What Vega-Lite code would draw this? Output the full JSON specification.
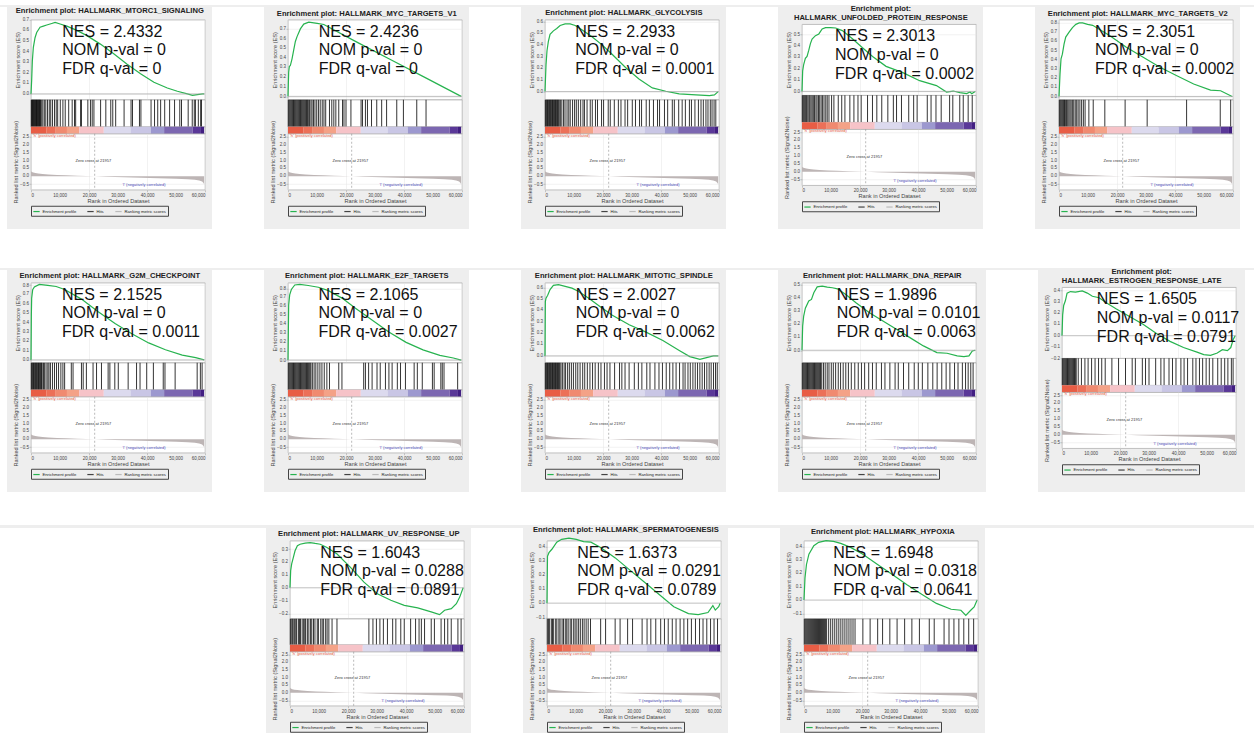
{
"$schema": "https://vega.github.io/schema/vega-lite/v6.json",
"padding": 0,
"background": "#eeeeee",
"config": {
  "font": "Liberation Sans",
  "view": {"stroke": "#a8a8a8", "strokeWidth": 0.7, "fill": "white"},
  "axis": {"labelFontSize": 4.5, "labelColor": "#444", "labelOverlap": false, "titleFontSize": 5.6, "titleFontWeight": "normal", "titleColor": "#444", "tickSize": 2, "tickColor": "#999", "tickWidth": 0.5, "domain": false, "grid": true, "gridColor": "#e4e4e4", "gridWidth": 0.5, "labelPadding": 0.5, "titlePadding": 1.5},
  "title": {"fontSize": 7.6, "fontWeight": "bold", "color": "#222", "offset": 2, "lineHeight": 9, "anchor": "middle"},
  "legend": {"orient": "bottom", "direction": "horizontal", "labelFontSize": 4.2, "labelColor": "#222", "symbolType": "stroke", "symbolStrokeWidth": 1.2, "symbolSize": 40, "strokeColor": "#444", "padding": 1.5, "columnPadding": 8, "labelOffset": 2, "offset": 1}
},
"datasets": {
  "rank": [{"r":0,"m":0.33},{"r":300,"m":0.28},{"r":800,"m":0.24},{"r":1500,"m":0.21},{"r":2500,"m":0.18},{"r":4000,"m":0.15},{"r":6000,"m":0.12},{"r":9000,"m":0.09},{"r":12000,"m":0.065},{"r":16000,"m":0.038},{"r":19000,"m":0.018},{"r":21957,"m":0},{"r":26000,"m":-0.03},{"r":32000,"m":-0.065},{"r":38000,"m":-0.095},{"r":44000,"m":-0.125},{"r":50000,"m":-0.155},{"r":54000,"m":-0.18},{"r":56500,"m":-0.21},{"r":58000,"m":-0.26},{"r":59000,"m":-0.33},{"r":59500,"m":-0.42},{"r":59700,"m":-0.52}],
  "bar": [{"a":0,"b":5400,"k":1},{"a":5400,"b":8300,"k":2},{"a":8300,"b":12400,"k":3},{"a":12400,"b":16600,"k":4},{"a":16600,"b":25100,"k":5},{"a":25100,"b":34300,"k":6},{"a":34300,"b":41300,"k":7},{"a":41300,"b":45900,"k":8},{"a":45900,"b":55700,"k":9},{"a":55700,"b":58600,"k":10},{"a":58600,"b":59700,"k":11}],
  "ytk": [{"v":0},{"v":0.5},{"v":1},{"v":1.5},{"v":2}],
  "xtk": [{"u":10000},{"u":30000},{"u":50000}],
  "e1": [{"r":0,"es":0},{"r":230,"es":0.13},{"r":460,"es":0.31},{"r":810,"es":0.44},{"r":1390,"es":0.53},{"r":1960,"es":0.58},{"r":3120,"es":0.63},{"r":4270,"es":0.64},{"r":5430,"es":0.65},{"r":7160,"es":0.665},{"r":8320,"es":0.675},{"r":10050,"es":0.66},{"r":12360,"es":0.64},{"r":15820,"es":0.6},{"r":19290,"es":0.55},{"r":23910,"es":0.47},{"r":28530,"es":0.38},{"r":33150,"es":0.28},{"r":37770,"es":0.19},{"r":42390,"es":0.11},{"r":47010,"es":0.056},{"r":50470,"es":0.025},{"r":53940,"es":0},{"r":55670,"es":-0.013},{"r":57400,"es":-0.006},{"r":59140,"es":0},{"r":59700,"es":0}],
  "e2": [{"r":0,"es":0},{"r":230,"es":0.25},{"r":460,"es":0.31},{"r":810,"es":0.32},{"r":1390,"es":0.39},{"r":1960,"es":0.48},{"r":2540,"es":0.57},{"r":3120,"es":0.62},{"r":4270,"es":0.7},{"r":5430,"es":0.75},{"r":7160,"es":0.77},{"r":8320,"es":0.765},{"r":10050,"es":0.757},{"r":12360,"es":0.746},{"r":23910,"es":0.56},{"r":35460,"es":0.38},{"r":47010,"es":0.2},{"r":59700,"es":0}],
  "e3": [{"r":0,"es":0},{"r":350,"es":0.23},{"r":690,"es":0.35},{"r":1160,"es":0.43},{"r":1740,"es":0.49},{"r":2890,"es":0.52},{"r":4050,"es":0.54},{"r":5210,"es":0.566},{"r":6940,"es":0.58},{"r":8680,"es":0.58},{"r":10410,"es":0.566},{"r":12730,"es":0.53},{"r":16200,"es":0.47},{"r":19670,"es":0.4},{"r":23140,"es":0.32},{"r":27770,"es":0.206},{"r":32400,"es":0.107},{"r":37020,"es":0.031},{"r":41650,"es":0.003},{"r":46280,"es":-0.02},{"r":52070,"es":-0.028},{"r":56690,"es":-0.034},{"r":58430,"es":-0.028},{"r":59700,"es":0}],
  "e4": [{"r":0,"es":0},{"r":230,"es":0.18},{"r":580,"es":0.236},{"r":1160,"es":0.29},{"r":1740,"es":0.307},{"r":2320,"es":0.36},{"r":2900,"es":0.42},{"r":3480,"es":0.46},{"r":4640,"es":0.49},{"r":5800,"es":0.505},{"r":6950,"es":0.548},{"r":8110,"es":0.56},{"r":9850,"es":0.56},{"r":11590,"es":0.557},{"r":13910,"es":0.534},{"r":17390,"es":0.463},{"r":20860,"es":0.383},{"r":24340,"es":0.307},{"r":28980,"es":0.22},{"r":34770,"es":0.165},{"r":40570,"es":0.094},{"r":46360,"es":0.051},{"r":49840,"es":-0.006},{"r":52160,"es":0.003},{"r":54470,"es":-0.011},{"r":56790,"es":-0.02},{"r":57950,"es":-0.006},{"r":58530,"es":-0.02},{"r":59700,"es":0}],
  "e5": [{"r":0,"es":0},{"r":350,"es":0.245},{"r":700,"es":0.41},{"r":1160,"es":0.46},{"r":1740,"es":0.57},{"r":2320,"es":0.646},{"r":3480,"es":0.7},{"r":4640,"es":0.75},{"r":5810,"es":0.785},{"r":6970,"es":0.8},{"r":8130,"es":0.8},{"r":9870,"es":0.785},{"r":11610,"es":0.774},{"r":17420,"es":0.664},{"r":23220,"es":0.536},{"r":29030,"es":0.427},{"r":34830,"es":0.318},{"r":40640,"es":0.226},{"r":46440,"es":0.135},{"r":52250,"es":0.069},{"r":55730,"es":0.062},{"r":59700,"es":0}],
  "e6": [{"r":0,"es":0},{"r":120,"es":0.48},{"r":230,"es":0.66},{"r":580,"es":0.75},{"r":1160,"es":0.78},{"r":2900,"es":0.807},{"r":5800,"es":0.796},{"r":8690,"es":0.785},{"r":11590,"es":0.753},{"r":17390,"es":0.65},{"r":23180,"es":0.516},{"r":28980,"es":0.389},{"r":34770,"es":0.28},{"r":40570,"es":0.182},{"r":46360,"es":0.109},{"r":52160,"es":0.051},{"r":56790,"es":0.025},{"r":59700,"es":0}],
  "e7": [{"r":0,"es":0},{"r":230,"es":0.617},{"r":580,"es":0.73},{"r":1160,"es":0.79},{"r":2330,"es":0.84},{"r":4070,"es":0.846},{"r":6980,"es":0.834},{"r":10470,"es":0.815},{"r":13960,"es":0.777},{"r":18620,"es":0.693},{"r":23270,"es":0.579},{"r":29090,"es":0.446},{"r":34910,"es":0.312},{"r":40730,"es":0.198},{"r":46550,"es":0.114},{"r":52360,"es":0.053},{"r":57020,"es":0.023},{"r":59700,"es":0}],
  "e8": [{"r":0,"es":0},{"r":120,"es":0.475},{"r":350,"es":0.505},{"r":930,"es":0.53},{"r":1740,"es":0.58},{"r":2900,"es":0.617},{"r":4640,"es":0.623},{"r":6970,"es":0.608},{"r":9290,"es":0.593},{"r":11610,"es":0.564},{"r":15090,"es":0.504},{"r":18580,"es":0.439},{"r":23220,"es":0.356},{"r":29030,"es":0.273},{"r":34830,"es":0.208},{"r":40640,"es":0.134},{"r":46440,"es":0.045},{"r":49920,"es":-0.006},{"r":53410,"es":-0.03},{"r":55730,"es":-0.015},{"r":58050,"es":0},{"r":59700,"es":0}],
  "e9": [{"r":0,"es":0},{"r":230,"es":0.184},{"r":580,"es":0.26},{"r":1160,"es":0.32},{"r":2330,"es":0.374},{"r":3260,"es":0.386},{"r":4070,"es":0.437},{"r":5230,"es":0.482},{"r":6980,"es":0.487},{"r":8720,"es":0.48},{"r":10470,"es":0.475},{"r":12210,"es":0.467},{"r":15120,"es":0.424},{"r":18610,"es":0.361},{"r":23260,"es":0.285},{"r":27910,"es":0.222},{"r":32560,"es":0.159},{"r":37220,"es":0.096},{"r":41870,"es":0.033},{"r":46520,"es":-0.018},{"r":50010,"es":-0.023},{"r":53500,"es":-0.043},{"r":55820,"es":-0.048},{"r":57570,"es":-0.043},{"r":58730,"es":-0.005},{"r":59700,"es":0}],
  "e10": [{"r":0,"es":0},{"r":230,"es":0.185},{"r":580,"es":0.268},{"r":1160,"es":0.31},{"r":1750,"es":0.378},{"r":2910,"es":0.392},{"r":4660,"es":0.386},{"r":6980,"es":0.397},{"r":8730,"es":0.378},{"r":10480,"es":0.35},{"r":12800,"es":0.337},{"r":15130,"es":0.295},{"r":18620,"es":0.24},{"r":23280,"es":0.171},{"r":27940,"es":0.102},{"r":32590,"es":0.019},{"r":37250,"es":-0.05},{"r":41900,"es":-0.105},{"r":46560,"es":-0.146},{"r":48890,"es":-0.168},{"r":51220,"es":-0.174},{"r":53540,"es":-0.154},{"r":55290,"es":-0.124},{"r":57040,"es":-0.132},{"r":58200,"es":-0.105},{"r":59010,"es":-0.036},{"r":59700,"es":0}],
  "e11": [{"r":0,"es":0},{"r":230,"es":0.133},{"r":580,"es":0.185},{"r":1160,"es":0.236},{"r":1740,"es":0.287},{"r":2550,"es":0.326},{"r":3480,"es":0.338},{"r":5220,"es":0.346},{"r":6950,"es":0.351},{"r":8690,"es":0.344},{"r":10430,"es":0.338},{"r":12750,"es":0.313},{"r":16230,"es":0.262},{"r":20860,"es":0.159},{"r":25500,"es":0.044},{"r":30130,"es":-0.046},{"r":34770,"es":-0.097},{"r":39410,"es":-0.136},{"r":44040,"es":-0.156},{"r":48680,"es":-0.187},{"r":51580,"es":-0.208},{"r":53310,"es":-0.174},{"r":55630,"es":-0.162},{"r":57370,"es":-0.123},{"r":58530,"es":-0.072},{"r":59700,"es":0}],
  "e12": [{"r":0,"es":0},{"r":170,"es":0.33},{"r":670,"es":0.356},{"r":1680,"es":0.38},{"r":3360,"es":0.43},{"r":5050,"es":0.45},{"r":7570,"es":0.459},{"r":10090,"es":0.45},{"r":12620,"es":0.434},{"r":15140,"es":0.43},{"r":18500,"es":0.393},{"r":23550,"es":0.319},{"r":28590,"es":0.233},{"r":33640,"es":0.147},{"r":38690,"es":0.061},{"r":43730,"es":-0.025},{"r":48780,"es":-0.074},{"r":52140,"es":-0.081},{"r":55510,"es":-0.066},{"r":57190,"es":-0.017},{"r":58030,"es":-0.049},{"r":59210,"es":-0.025},{"r":59700,"es":0}],
  "e13": [{"r":0,"es":0},{"r":340,"es":0.166},{"r":850,"es":0.267},{"r":1690,"es":0.344},{"r":3380,"es":0.408},{"r":5070,"es":0.433},{"r":7610,"es":0.446},{"r":10150,"es":0.44},{"r":12680,"es":0.425},{"r":16060,"es":0.395},{"r":20290,"es":0.344},{"r":25370,"es":0.267},{"r":30440,"es":0.191},{"r":35510,"es":0.115},{"r":40580,"es":0.043},{"r":45660,"es":-0.025},{"r":50730,"es":-0.069},{"r":54110,"es":-0.076},{"r":55800,"es":-0.115},{"r":57490,"es":-0.076},{"r":58680,"es":-0.051},{"r":59700,"es":0}],
  "h1": [{"r":100},{"r":300},{"r":500},{"r":700},{"r":900},{"r":1100},{"r":1300},{"r":1500},{"r":1700},{"r":1900},{"r":2100},{"r":2300},{"r":2500},{"r":2700},{"r":2900},{"r":3100},{"r":3300},{"r":3700},{"r":4100},{"r":4600},{"r":5100},{"r":5700},{"r":6300},{"r":6800},{"r":7400},{"r":8100},{"r":8700},{"r":9200},{"r":10100},{"r":11000},{"r":11800},{"r":13000},{"r":14200},{"r":15000},{"r":15400},{"r":17100},{"r":17400},{"r":19600},{"r":20500},{"r":21100},{"r":21700},{"r":24000},{"r":25800},{"r":27500},{"r":28200},{"r":29200},{"r":32100},{"r":34500},{"r":35000},{"r":37400},{"r":37900},{"r":41400},{"r":42600},{"r":43700},{"r":44700},{"r":46100},{"r":47800},{"r":49500},{"r":51300},{"r":51900},{"r":54200},{"r":55600},{"r":56300},{"r":56700},{"r":57700},{"r":58500},{"r":58800}],
  "h2": [{"r":100},{"r":400},{"r":700},{"r":1000},{"r":1300},{"r":1600},{"r":1900},{"r":2200},{"r":2500},{"r":2800},{"r":3100},{"r":3400},{"r":3700},{"r":4000},{"r":4300},{"r":4600},{"r":4900},{"r":5200},{"r":5500},{"r":5800},{"r":6100},{"r":6400},{"r":6700},{"r":7000},{"r":7400},{"r":7900},{"r":8300},{"r":8800},{"r":9300},{"r":9900},{"r":10500},{"r":11100},{"r":11800},{"r":12400},{"r":13000},{"r":14300},{"r":15100},{"r":15800},{"r":16500},{"r":17500},{"r":18800},{"r":19300},{"r":20000},{"r":21700},{"r":25200},{"r":25700},{"r":26700},{"r":27400},{"r":28800},{"r":30600},{"r":32300},{"r":34000},{"r":37500},{"r":39800},{"r":44400},{"r":47600}],
  "h3": [{"r":100},{"r":350},{"r":600},{"r":850},{"r":1100},{"r":1350},{"r":1600},{"r":1850},{"r":2100},{"r":2350},{"r":2600},{"r":2850},{"r":3100},{"r":3350},{"r":3600},{"r":3850},{"r":4100},{"r":4350},{"r":4600},{"r":4900},{"r":5300},{"r":5800},{"r":6400},{"r":6900},{"r":7600},{"r":8200},{"r":8700},{"r":9500},{"r":10200},{"r":10800},{"r":11500},{"r":12300},{"r":13100},{"r":13600},{"r":14500},{"r":15600},{"r":16300},{"r":17400},{"r":18100},{"r":19500},{"r":20200},{"r":21800},{"r":22500},{"r":23900},{"r":25300},{"r":26200},{"r":27600},{"r":28500},{"r":30100},{"r":31200},{"r":32600},{"r":33300},{"r":34900},{"r":36000},{"r":37400},{"r":38800},{"r":39500},{"r":41200},{"r":42300},{"r":43900},{"r":44600},{"r":46100},{"r":47300},{"r":48400},{"r":49800},{"r":50500},{"r":51700},{"r":52900},{"r":53800},{"r":54600},{"r":55500},{"r":56200},{"r":57000},{"r":57600},{"r":58300},{"r":58900}],
  "h4": [{"r":100},{"r":400},{"r":700},{"r":1000},{"r":1300},{"r":1600},{"r":2000},{"r":2400},{"r":2700},{"r":3100},{"r":3500},{"r":3900},{"r":4300},{"r":4800},{"r":5200},{"r":5700},{"r":6100},{"r":6600},{"r":7100},{"r":7600},{"r":8200},{"r":8700},{"r":9300},{"r":10200},{"r":11000},{"r":12500},{"r":13700},{"r":14800},{"r":16500},{"r":17900},{"r":19300},{"r":20400},{"r":22600},{"r":24300},{"r":25800},{"r":27500},{"r":29600},{"r":31500},{"r":32600},{"r":34300},{"r":36800},{"r":38500},{"r":39700},{"r":43200},{"r":44500},{"r":46200},{"r":48000},{"r":50900},{"r":52000},{"r":54400},{"r":55600},{"r":57300},{"r":58700}],
  "h5": [{"r":100},{"r":400},{"r":700},{"r":1000},{"r":1300},{"r":1600},{"r":1900},{"r":2200},{"r":2600},{"r":3000},{"r":3400},{"r":3800},{"r":4200},{"r":4700},{"r":5100},{"r":5600},{"r":6100},{"r":6600},{"r":7200},{"r":7800},{"r":8400},{"r":9000},{"r":10300},{"r":11800},{"r":15800},{"r":22800},{"r":30400},{"r":44000},{"r":55600},{"r":59200}],
  "h6": [{"r":100},{"r":350},{"r":600},{"r":850},{"r":1100},{"r":1350},{"r":1600},{"r":1850},{"r":2100},{"r":2350},{"r":2600},{"r":2850},{"r":3100},{"r":3350},{"r":3600},{"r":3850},{"r":4300},{"r":4700},{"r":5200},{"r":5800},{"r":6200},{"r":6700},{"r":7400},{"r":8100},{"r":8800},{"r":9500},{"r":10300},{"r":11000},{"r":11600},{"r":13900},{"r":14500},{"r":17400},{"r":18000},{"r":19100},{"r":21400},{"r":22600},{"r":24300},{"r":26600},{"r":27200},{"r":28900},{"r":30100},{"r":33500},{"r":36400},{"r":37600},{"r":39900},{"r":42200},{"r":45600},{"r":46200},{"r":49700},{"r":57300},{"r":58400},{"r":59000}],
  "h7": [{"r":100},{"r":400},{"r":700},{"r":1000},{"r":1300},{"r":1600},{"r":1900},{"r":2200},{"r":2500},{"r":2800},{"r":3100},{"r":3400},{"r":3700},{"r":4000},{"r":4300},{"r":4600},{"r":4900},{"r":5200},{"r":5500},{"r":5800},{"r":6100},{"r":6400},{"r":6700},{"r":7000},{"r":7300},{"r":7600},{"r":7900},{"r":8400},{"r":9000},{"r":9600},{"r":10300},{"r":11000},{"r":11700},{"r":12500},{"r":13400},{"r":14300},{"r":17500},{"r":18600},{"r":26100},{"r":26700},{"r":27800},{"r":29000},{"r":30700},{"r":31800},{"r":33600},{"r":34800},{"r":35900},{"r":37700},{"r":38800},{"r":40500},{"r":43500},{"r":44600},{"r":46300},{"r":49800},{"r":50400},{"r":52700},{"r":53200},{"r":53800},{"r":58500}],
  "h8": [{"r":100},{"r":350},{"r":600},{"r":850},{"r":1100},{"r":1350},{"r":1600},{"r":1850},{"r":2100},{"r":2350},{"r":2600},{"r":2850},{"r":3100},{"r":3350},{"r":3600},{"r":3850},{"r":4100},{"r":4350},{"r":4600},{"r":4850},{"r":5100},{"r":5500},{"r":6000},{"r":6600},{"r":7100},{"r":7800},{"r":8400},{"r":9100},{"r":9800},{"r":10600},{"r":11300},{"r":12100},{"r":13000},{"r":13700},{"r":14600},{"r":15500},{"r":16400},{"r":17300},{"r":18400},{"r":19300},{"r":20500},{"r":21400},{"r":22400},{"r":24000},{"r":25700},{"r":26500},{"r":27600},{"r":29000},{"r":30800},{"r":32200},{"r":33400},{"r":35100},{"r":36200},{"r":37900},{"r":39300},{"r":40500},{"r":41800},{"r":43000},{"r":44100},{"r":45200},{"r":46400},{"r":47600},{"r":48300},{"r":49300},{"r":50100},{"r":51000},{"r":51800},{"r":52600},{"r":53400},{"r":54200},{"r":55000},{"r":55800},{"r":56600},{"r":57300},{"r":58100},{"r":58800},{"r":59400}],
  "h9": [{"r":100},{"r":400},{"r":700},{"r":1000},{"r":1300},{"r":1600},{"r":1900},{"r":2200},{"r":2500},{"r":2800},{"r":3100},{"r":3400},{"r":3700},{"r":4000},{"r":4300},{"r":4600},{"r":4900},{"r":5200},{"r":5500},{"r":5800},{"r":6100},{"r":6400},{"r":6800},{"r":7400},{"r":8000},{"r":8700},{"r":9300},{"r":10100},{"r":10800},{"r":11600},{"r":12500},{"r":13300},{"r":14200},{"r":15100},{"r":16000},{"r":17000},{"r":18200},{"r":19400},{"r":20500},{"r":21600},{"r":23000},{"r":24300},{"r":25600},{"r":27400},{"r":28600},{"r":30300},{"r":32100},{"r":33200},{"r":35000},{"r":36800},{"r":38700},{"r":40100},{"r":41500},{"r":43400},{"r":45100},{"r":46600},{"r":48200},{"r":49700},{"r":51000},{"r":52600},{"r":53800},{"r":55300},{"r":56400},{"r":57300},{"r":58200},{"r":59000}],
  "h10": [{"r":100},{"r":400},{"r":700},{"r":1000},{"r":1300},{"r":1600},{"r":1900},{"r":2200},{"r":2500},{"r":2800},{"r":3100},{"r":3400},{"r":3700},{"r":4000},{"r":4300},{"r":4600},{"r":4900},{"r":5600},{"r":6700},{"r":7900},{"r":9000},{"r":10200},{"r":11400},{"r":12600},{"r":13700},{"r":14900},{"r":17200},{"r":19500},{"r":21900},{"r":24200},{"r":25300},{"r":27700},{"r":28800},{"r":30000},{"r":32300},{"r":34100},{"r":35200},{"r":36900},{"r":38100},{"r":39300},{"r":41000},{"r":42100},{"r":43300},{"r":45100},{"r":46200},{"r":47400},{"r":48500},{"r":49700},{"r":50800},{"r":52000},{"r":53700},{"r":54900},{"r":56100},{"r":57200},{"r":58400},{"r":59000}],
  "h11": [{"r":100},{"r":400},{"r":800},{"r":1100},{"r":1600},{"r":2000},{"r":2300},{"r":2900},{"r":3300},{"r":3600},{"r":4200},{"r":4700},{"r":5100},{"r":5400},{"r":6000},{"r":6500},{"r":7100},{"r":7500},{"r":8100},{"r":8600},{"r":9400},{"r":9800},{"r":10600},{"r":11100},{"r":11600},{"r":12300},{"r":12800},{"r":13400},{"r":14500},{"r":16200},{"r":27200},{"r":28600},{"r":29800},{"r":31000},{"r":32200},{"r":33600},{"r":35400},{"r":36500},{"r":38200},{"r":39400},{"r":41600},{"r":43300},{"r":44500},{"r":45300},{"r":46400},{"r":48700},{"r":49800},{"r":52100},{"r":53300},{"r":54400},{"r":55600},{"r":57900},{"r":59000}],
  "h12": [{"r":100},{"r":500},{"r":900},{"r":1500},{"r":1900},{"r":2300},{"r":3000},{"r":3400},{"r":4100},{"r":4500},{"r":5200},{"r":5700},{"r":6300},{"r":6800},{"r":7300},{"r":8000},{"r":8500},{"r":9200},{"r":9700},{"r":10300},{"r":10900},{"r":11500},{"r":12200},{"r":12800},{"r":13500},{"r":14200},{"r":15000},{"r":18500},{"r":20200},{"r":23500},{"r":25200},{"r":27800},{"r":29500},{"r":32800},{"r":34500},{"r":35800},{"r":37500},{"r":39200},{"r":40500},{"r":41800},{"r":43200},{"r":44500},{"r":45900},{"r":47200},{"r":48500},{"r":49800},{"r":51200},{"r":52600},{"r":53800},{"r":55100},{"r":56400},{"r":57600},{"r":58800}],
  "h13": [{"r":100},{"r":450},{"r":800},{"r":1150},{"r":1500},{"r":1850},{"r":2200},{"r":2550},{"r":2900},{"r":3250},{"r":3600},{"r":3950},{"r":4300},{"r":4650},{"r":5000},{"r":5350},{"r":5700},{"r":6050},{"r":6400},{"r":6750},{"r":7100},{"r":7450},{"r":7800},{"r":8500},{"r":9200},{"r":9900},{"r":10600},{"r":11300},{"r":12000},{"r":12700},{"r":13400},{"r":14100},{"r":14800},{"r":15500},{"r":16200},{"r":16900},{"r":17600},{"r":20300},{"r":22800},{"r":25400},{"r":27100},{"r":29600},{"r":32100},{"r":34700},{"r":37200},{"r":39800},{"r":43200},{"r":44900},{"r":48300},{"r":50000},{"r":51700},{"r":53400},{"r":55100},{"r":56800},{"r":58500}]
},
"resolve": {"scale": {"color": "independent"}},
"spacing": 0,
"vconcat": [
{"width": 1270, "height": 5, "data": {"values": []}, "mark": "rect", "view": {"stroke": null, "fill": "white"}},
{"spacing": 5, "center": true, "resolve": {"scale": {"color": "independent"}}, "hconcat": [
{"width": 7, "height": 222, "data": {"values": []}, "mark": "rect", "view": {"stroke": null, "fill": "white"}},
{"title": {"text": "Enrichment plot: HALLMARK_MTORC1_SIGNALING"}, "spacing": 0, "bounds": "flush", "vconcat": [
 {"width": 174, "height": 80, "layer": [
  {"data": {"name": "e1"}, "mark": {"type": "line", "color": "#27b34f", "strokeWidth": 1.2}, "encoding": {"x": {"field": "r", "type": "quantitative", "scale": {"domain": [0, 60000]}, "axis": {"labels": false, "ticks": false, "title": null, "values": [0,10000,20000,30000,40000,50000,60000]}}, "y": {"field": "es", "type": "quantitative", "scale": {"domain": [-0.055, 0.7], "nice": false, "zero": false}, "axis": {"title": "Enrichment score (ES)", "format": ".1f", "labelOverlap": false, "values": [0,0.1,0.2,0.3,0.4,0.5,0.6,0.7]}}}},
  {"data": {"values": [{}]}, "mark": {"type": "rule", "color": "#a3a3a3", "strokeWidth": 0.7}, "encoding": {"y": {"datum": 0}}},
  {"data": {"values": [{"v":0.1},{"v":0.2},{"v":0.3},{"v":0.4},{"v":0.5},{"v":0.6}]}, "mark": {"type": "text", "align": "right", "baseline": "middle", "dx": -2, "fontSize": 4.5, "color": "#444"}, "encoding": {"x": {"datum": 0}, "y": {"field": "v", "type": "quantitative"}, "text": {"field": "v", "type": "quantitative", "format": ".1f"}}},
  {"data": {"values": [{"t": "NES = 2.4332\nNOM p-val = 0\nFDR q-val = 0"}]}, "mark": {"type": "text", "fontSize": 16, "lineHeight": 18.7, "lineBreak": "\n", "align": "left", "baseline": "top", "dy": 4, "color": "#111"}, "encoding": {"text": {"field": "t"}, "x": {"datum": 10800}, "y": {"datum": 0.7}}}
 ]},
 {"width": 174, "height": 27, "data": {"name": "h1"}, "mark": {"type": "rule", "color": "#000000", "strokeWidth": 0.8}, "encoding": {"x": {"field": "r", "type": "quantitative", "scale": {"domain": [0, 60000]}, "axis": null}}},
 {"width": 174, "height": 7, "data": {"name": "bar"}, "mark": "rect", "encoding": {"x": {"field": "a", "type": "quantitative", "scale": {"domain": [0, 60000]}, "axis": null}, "x2": {"field": "b"}, "fill": {"field": "k", "type": "ordinal", "scale": {"range": ["#e85d45","#ec7058","#f08a70","#f4a287","#f6c3c8","#dcdaee","#c9c6e5","#9c98cf","#7c67b1","#5a3898","#421f82"]}, "legend": null}}},
 {"width": 174, "height": 56, "layer": [
  {"data": {"name": "rank"}, "mark": {"type": "area", "color": "#bdb5b5"}, "encoding": {"x": {"field": "r", "type": "quantitative", "scale": {"domain": [0, 60000]}, "axis": {"title": "Rank in Ordered Dataset", "format": ",d", "labelOverlap": false, "values": [0,10000,20000,30000,40000,50000,60000]}}, "y": {"field": "m", "type": "quantitative", "stack": null, "scale": {"domain": [-0.85, 2.7], "nice": false, "zero": false}, "axis": {"title": "Ranked list metric (Signal2Noise)", "format": ".1f", "labelOverlap": false, "values": [-0.5,0,0.5,1,1.5,2,2.5]}}, "y2": {"datum": 0}}},
  {"data": {"values": [{}]}, "mark": {"type": "rule", "color": "#8c8c8c", "strokeWidth": 0.6, "strokeDash": [2, 2]}, "encoding": {"x": {"datum": 21957}}},
  {"data": {"name": "ytk"}, "mark": {"type": "text", "align": "right", "baseline": "middle", "dx": -2, "fontSize": 4.5, "color": "#444"}, "encoding": {"x": {"datum": 0}, "y": {"field": "v", "type": "quantitative"}, "text": {"field": "v", "type": "quantitative", "format": ".1f"}}},
  {"data": {"name": "xtk"}, "mark": {"type": "text", "align": "center", "baseline": "top", "dy": 3, "fontSize": 4.5, "color": "#444"}, "encoding": {"x": {"field": "u", "type": "quantitative"}, "y": {"datum": -0.85}, "text": {"field": "u", "type": "quantitative", "format": ",d"}}},
  {"data": {"values": [{"t": "Zero cross at 21957"}]}, "mark": {"type": "text", "fontSize": 4, "color": "#333"}, "encoding": {"text": {"field": "t"}, "x": {"datum": 21500}, "y": {"datum": 0.95}}},
  {"data": {"values": [{"t": "'h' (positively correlated)"}]}, "mark": {"type": "text", "fontSize": 4, "color": "#e2553a", "align": "left"}, "encoding": {"text": {"field": "t"}, "x": {"datum": 700}, "y": {"datum": 2.58}}},
  {"data": {"values": [{"t": "'l' (negatively correlated)"}]}, "mark": {"type": "text", "fontSize": 4, "color": "#4646b4"}, "encoding": {"text": {"field": "t"}, "x": {"datum": 39000}, "y": {"datum": -0.57}}},
  {"data": {"values": []}, "mark": "line", "encoding": {"x": {"field": "r", "type": "quantitative"}, "y": {"field": "m", "type": "quantitative"}, "color": {"field": "k", "type": "nominal", "scale": {"domain": ["Enrichment profile", "Hits", "Ranking metric scores"], "range": ["#27b34f", "#444444", "#bbbbbb"]}, "legend": {"title": null}}}}
 ]}
]},
{"width": 52, "height": 222, "data": {"values": []}, "mark": "rect", "view": {"stroke": null, "fill": "white"}},
{"title": {"text": "Enrichment plot: HALLMARK_MYC_TARGETS_V1"}, "spacing": 0, "bounds": "flush", "vconcat": [
 {"width": 174, "height": 80, "layer": [
  {"data": {"name": "e2"}, "mark": {"type": "line", "color": "#27b34f", "strokeWidth": 1.2}, "encoding": {"x": {"field": "r", "type": "quantitative", "scale": {"domain": [0, 60000]}, "axis": {"labels": false, "ticks": false, "title": null, "values": [0,10000,20000,30000,40000,50000,60000]}}, "y": {"field": "es", "type": "quantitative", "scale": {"domain": [-0.035, 0.795], "nice": false, "zero": false}, "axis": {"title": "Enrichment score (ES)", "format": ".1f", "labelOverlap": false, "values": [0,0.1,0.2,0.3,0.4,0.5,0.6,0.7]}}}},
  {"data": {"values": [{}]}, "mark": {"type": "rule", "color": "#a3a3a3", "strokeWidth": 0.7}, "encoding": {"y": {"datum": 0}}},
  {"data": {"values": [{"v":0.1},{"v":0.2},{"v":0.3},{"v":0.4},{"v":0.5},{"v":0.6}]}, "mark": {"type": "text", "align": "right", "baseline": "middle", "dx": -2, "fontSize": 4.5, "color": "#444"}, "encoding": {"x": {"datum": 0}, "y": {"field": "v", "type": "quantitative"}, "text": {"field": "v", "type": "quantitative", "format": ".1f"}}},
  {"data": {"values": [{"t": "NES = 2.4236\nNOM p-val = 0\nFDR q-val = 0"}]}, "mark": {"type": "text", "fontSize": 16, "lineHeight": 18.7, "lineBreak": "\n", "align": "left", "baseline": "top", "dy": 4, "color": "#111"}, "encoding": {"text": {"field": "t"}, "x": {"datum": 10600}, "y": {"datum": 0.795}}}
 ]},
 {"width": 174, "height": 27, "data": {"name": "h2"}, "mark": {"type": "rule", "color": "#000000", "strokeWidth": 0.8}, "encoding": {"x": {"field": "r", "type": "quantitative", "scale": {"domain": [0, 60000]}, "axis": null}}},
 {"width": 174, "height": 7, "data": {"name": "bar"}, "mark": "rect", "encoding": {"x": {"field": "a", "type": "quantitative", "scale": {"domain": [0, 60000]}, "axis": null}, "x2": {"field": "b"}, "fill": {"field": "k", "type": "ordinal", "scale": {"range": ["#e85d45","#ec7058","#f08a70","#f4a287","#f6c3c8","#dcdaee","#c9c6e5","#9c98cf","#7c67b1","#5a3898","#421f82"]}, "legend": null}}},
 {"width": 174, "height": 56, "layer": [
  {"data": {"name": "rank"}, "mark": {"type": "area", "color": "#bdb5b5"}, "encoding": {"x": {"field": "r", "type": "quantitative", "scale": {"domain": [0, 60000]}, "axis": {"title": "Rank in Ordered Dataset", "format": ",d", "labelOverlap": false, "values": [0,10000,20000,30000,40000,50000,60000]}}, "y": {"field": "m", "type": "quantitative", "stack": null, "scale": {"domain": [-0.85, 2.7], "nice": false, "zero": false}, "axis": {"title": "Ranked list metric (Signal2Noise)", "format": ".1f", "labelOverlap": false, "values": [-0.5,0,0.5,1,1.5,2,2.5]}}, "y2": {"datum": 0}}},
  {"data": {"values": [{}]}, "mark": {"type": "rule", "color": "#8c8c8c", "strokeWidth": 0.6, "strokeDash": [2, 2]}, "encoding": {"x": {"datum": 21957}}},
  {"data": {"name": "ytk"}, "mark": {"type": "text", "align": "right", "baseline": "middle", "dx": -2, "fontSize": 4.5, "color": "#444"}, "encoding": {"x": {"datum": 0}, "y": {"field": "v", "type": "quantitative"}, "text": {"field": "v", "type": "quantitative", "format": ".1f"}}},
  {"data": {"name": "xtk"}, "mark": {"type": "text", "align": "center", "baseline": "top", "dy": 3, "fontSize": 4.5, "color": "#444"}, "encoding": {"x": {"field": "u", "type": "quantitative"}, "y": {"datum": -0.85}, "text": {"field": "u", "type": "quantitative", "format": ",d"}}},
  {"data": {"values": [{"t": "Zero cross at 21957"}]}, "mark": {"type": "text", "fontSize": 4, "color": "#333"}, "encoding": {"text": {"field": "t"}, "x": {"datum": 21500}, "y": {"datum": 0.95}}},
  {"data": {"values": [{"t": "'h' (positively correlated)"}]}, "mark": {"type": "text", "fontSize": 4, "color": "#e2553a", "align": "left"}, "encoding": {"text": {"field": "t"}, "x": {"datum": 700}, "y": {"datum": 2.58}}},
  {"data": {"values": [{"t": "'l' (negatively correlated)"}]}, "mark": {"type": "text", "fontSize": 4, "color": "#4646b4"}, "encoding": {"text": {"field": "t"}, "x": {"datum": 39000}, "y": {"datum": -0.57}}},
  {"data": {"values": []}, "mark": "line", "encoding": {"x": {"field": "r", "type": "quantitative"}, "y": {"field": "m", "type": "quantitative"}, "color": {"field": "k", "type": "nominal", "scale": {"domain": ["Enrichment profile", "Hits", "Ranking metric scores"], "range": ["#27b34f", "#444444", "#bbbbbb"]}, "legend": {"title": null}}}}
 ]}
]},
{"width": 52, "height": 222, "data": {"values": []}, "mark": "rect", "view": {"stroke": null, "fill": "white"}},
{"title": {"text": "Enrichment plot: HALLMARK_GLYCOLYSIS"}, "spacing": 0, "bounds": "flush", "vconcat": [
 {"width": 174, "height": 80, "layer": [
  {"data": {"name": "e3"}, "mark": {"type": "line", "color": "#27b34f", "strokeWidth": 1.2}, "encoding": {"x": {"field": "r", "type": "quantitative", "scale": {"domain": [0, 60000]}, "axis": {"labels": false, "ticks": false, "title": null, "values": [0,10000,20000,30000,40000,50000,60000]}}, "y": {"field": "es", "type": "quantitative", "scale": {"domain": [-0.07, 0.615], "nice": false, "zero": false}, "axis": {"title": "Enrichment score (ES)", "format": ".1f", "labelOverlap": false, "values": [0,0.1,0.2,0.3,0.4,0.5,0.6]}}}},
  {"data": {"values": [{}]}, "mark": {"type": "rule", "color": "#a3a3a3", "strokeWidth": 0.7}, "encoding": {"y": {"datum": 0}}},
  {"data": {"values": [{"v":0.1},{"v":0.2},{"v":0.3},{"v":0.4},{"v":0.5}]}, "mark": {"type": "text", "align": "right", "baseline": "middle", "dx": -2, "fontSize": 4.5, "color": "#444"}, "encoding": {"x": {"datum": 0}, "y": {"field": "v", "type": "quantitative"}, "text": {"field": "v", "type": "quantitative", "format": ".1f"}}},
  {"data": {"values": [{"t": "NES = 2.2933\nNOM p-val = 0\nFDR q-val = 0.0001"}]}, "mark": {"type": "text", "fontSize": 16, "lineHeight": 18.7, "lineBreak": "\n", "align": "left", "baseline": "top", "dy": 4, "color": "#111"}, "encoding": {"text": {"field": "t"}, "x": {"datum": 10400}, "y": {"datum": 0.615}}}
 ]},
 {"width": 174, "height": 27, "data": {"name": "h3"}, "mark": {"type": "rule", "color": "#000000", "strokeWidth": 0.8}, "encoding": {"x": {"field": "r", "type": "quantitative", "scale": {"domain": [0, 60000]}, "axis": null}}},
 {"width": 174, "height": 7, "data": {"name": "bar"}, "mark": "rect", "encoding": {"x": {"field": "a", "type": "quantitative", "scale": {"domain": [0, 60000]}, "axis": null}, "x2": {"field": "b"}, "fill": {"field": "k", "type": "ordinal", "scale": {"range": ["#e85d45","#ec7058","#f08a70","#f4a287","#f6c3c8","#dcdaee","#c9c6e5","#9c98cf","#7c67b1","#5a3898","#421f82"]}, "legend": null}}},
 {"width": 174, "height": 56, "layer": [
  {"data": {"name": "rank"}, "mark": {"type": "area", "color": "#bdb5b5"}, "encoding": {"x": {"field": "r", "type": "quantitative", "scale": {"domain": [0, 60000]}, "axis": {"title": "Rank in Ordered Dataset", "format": ",d", "labelOverlap": false, "values": [0,10000,20000,30000,40000,50000,60000]}}, "y": {"field": "m", "type": "quantitative", "stack": null, "scale": {"domain": [-0.85, 2.7], "nice": false, "zero": false}, "axis": {"title": "Ranked list metric (Signal2Noise)", "format": ".1f", "labelOverlap": false, "values": [-0.5,0,0.5,1,1.5,2,2.5]}}, "y2": {"datum": 0}}},
  {"data": {"values": [{}]}, "mark": {"type": "rule", "color": "#8c8c8c", "strokeWidth": 0.6, "strokeDash": [2, 2]}, "encoding": {"x": {"datum": 21957}}},
  {"data": {"name": "ytk"}, "mark": {"type": "text", "align": "right", "baseline": "middle", "dx": -2, "fontSize": 4.5, "color": "#444"}, "encoding": {"x": {"datum": 0}, "y": {"field": "v", "type": "quantitative"}, "text": {"field": "v", "type": "quantitative", "format": ".1f"}}},
  {"data": {"name": "xtk"}, "mark": {"type": "text", "align": "center", "baseline": "top", "dy": 3, "fontSize": 4.5, "color": "#444"}, "encoding": {"x": {"field": "u", "type": "quantitative"}, "y": {"datum": -0.85}, "text": {"field": "u", "type": "quantitative", "format": ",d"}}},
  {"data": {"values": [{"t": "Zero cross at 21957"}]}, "mark": {"type": "text", "fontSize": 4, "color": "#333"}, "encoding": {"text": {"field": "t"}, "x": {"datum": 21500}, "y": {"datum": 0.95}}},
  {"data": {"values": [{"t": "'h' (positively correlated)"}]}, "mark": {"type": "text", "fontSize": 4, "color": "#e2553a", "align": "left"}, "encoding": {"text": {"field": "t"}, "x": {"datum": 700}, "y": {"datum": 2.58}}},
  {"data": {"values": [{"t": "'l' (negatively correlated)"}]}, "mark": {"type": "text", "fontSize": 4, "color": "#4646b4"}, "encoding": {"text": {"field": "t"}, "x": {"datum": 39000}, "y": {"datum": -0.57}}},
  {"data": {"values": []}, "mark": "line", "encoding": {"x": {"field": "r", "type": "quantitative"}, "y": {"field": "m", "type": "quantitative"}, "color": {"field": "k", "type": "nominal", "scale": {"domain": ["Enrichment profile", "Hits", "Ranking metric scores"], "range": ["#27b34f", "#444444", "#bbbbbb"]}, "legend": {"title": null}}}}
 ]}
]},
{"width": 52, "height": 222, "data": {"values": []}, "mark": "rect", "view": {"stroke": null, "fill": "white"}},
{"title": {"text": ["Enrichment plot:", "HALLMARK_UNFOLDED_PROTEIN_RESPONSE"]}, "spacing": 0, "bounds": "flush", "vconcat": [
 {"width": 174, "height": 71, "layer": [
  {"data": {"name": "e4"}, "mark": {"type": "line", "color": "#27b34f", "strokeWidth": 1.2}, "encoding": {"x": {"field": "r", "type": "quantitative", "scale": {"domain": [0, 60000]}, "axis": {"labels": false, "ticks": false, "title": null, "values": [0,10000,20000,30000,40000,50000,60000]}}, "y": {"field": "es", "type": "quantitative", "scale": {"domain": [-0.034, 0.59], "nice": false, "zero": false}, "axis": {"title": "Enrichment score (ES)", "format": ".1f", "labelOverlap": false, "values": [0,0.1,0.2,0.3,0.4,0.5]}}}},
  {"data": {"values": [{}]}, "mark": {"type": "rule", "color": "#a3a3a3", "strokeWidth": 0.7}, "encoding": {"y": {"datum": 0}}},
  {"data": {"values": [{"v":0.1},{"v":0.2},{"v":0.3},{"v":0.4}]}, "mark": {"type": "text", "align": "right", "baseline": "middle", "dx": -2, "fontSize": 4.5, "color": "#444"}, "encoding": {"x": {"datum": 0}, "y": {"field": "v", "type": "quantitative"}, "text": {"field": "v", "type": "quantitative", "format": ".1f"}}},
  {"data": {"values": [{"t": "NES = 2.3013\nNOM p-val = 0\nFDR q-val = 0.0002"}]}, "mark": {"type": "text", "fontSize": 16, "lineHeight": 18.7, "lineBreak": "\n", "align": "left", "baseline": "top", "dy": 4, "color": "#111"}, "encoding": {"text": {"field": "t"}, "x": {"datum": 11400}, "y": {"datum": 0.59}}}
 ]},
 {"width": 174, "height": 27, "data": {"name": "h4"}, "mark": {"type": "rule", "color": "#000000", "strokeWidth": 0.8}, "encoding": {"x": {"field": "r", "type": "quantitative", "scale": {"domain": [0, 60000]}, "axis": null}}},
 {"width": 174, "height": 7, "data": {"name": "bar"}, "mark": "rect", "encoding": {"x": {"field": "a", "type": "quantitative", "scale": {"domain": [0, 60000]}, "axis": null}, "x2": {"field": "b"}, "fill": {"field": "k", "type": "ordinal", "scale": {"range": ["#e85d45","#ec7058","#f08a70","#f4a287","#f6c3c8","#dcdaee","#c9c6e5","#9c98cf","#7c67b1","#5a3898","#421f82"]}, "legend": null}}},
 {"width": 174, "height": 56, "layer": [
  {"data": {"name": "rank"}, "mark": {"type": "area", "color": "#bdb5b5"}, "encoding": {"x": {"field": "r", "type": "quantitative", "scale": {"domain": [0, 60000]}, "axis": {"title": "Rank in Ordered Dataset", "format": ",d", "labelOverlap": false, "values": [0,10000,20000,30000,40000,50000,60000]}}, "y": {"field": "m", "type": "quantitative", "stack": null, "scale": {"domain": [-0.85, 2.7], "nice": false, "zero": false}, "axis": {"title": "Ranked list metric (Signal2Noise)", "format": ".1f", "labelOverlap": false, "values": [-0.5,0,0.5,1,1.5,2,2.5]}}, "y2": {"datum": 0}}},
  {"data": {"values": [{}]}, "mark": {"type": "rule", "color": "#8c8c8c", "strokeWidth": 0.6, "strokeDash": [2, 2]}, "encoding": {"x": {"datum": 21957}}},
  {"data": {"name": "ytk"}, "mark": {"type": "text", "align": "right", "baseline": "middle", "dx": -2, "fontSize": 4.5, "color": "#444"}, "encoding": {"x": {"datum": 0}, "y": {"field": "v", "type": "quantitative"}, "text": {"field": "v", "type": "quantitative", "format": ".1f"}}},
  {"data": {"name": "xtk"}, "mark": {"type": "text", "align": "center", "baseline": "top", "dy": 3, "fontSize": 4.5, "color": "#444"}, "encoding": {"x": {"field": "u", "type": "quantitative"}, "y": {"datum": -0.85}, "text": {"field": "u", "type": "quantitative", "format": ",d"}}},
  {"data": {"values": [{"t": "Zero cross at 21957"}]}, "mark": {"type": "text", "fontSize": 4, "color": "#333"}, "encoding": {"text": {"field": "t"}, "x": {"datum": 21500}, "y": {"datum": 0.95}}},
  {"data": {"values": [{"t": "'h' (positively correlated)"}]}, "mark": {"type": "text", "fontSize": 4, "color": "#e2553a", "align": "left"}, "encoding": {"text": {"field": "t"}, "x": {"datum": 700}, "y": {"datum": 2.58}}},
  {"data": {"values": [{"t": "'l' (negatively correlated)"}]}, "mark": {"type": "text", "fontSize": 4, "color": "#4646b4"}, "encoding": {"text": {"field": "t"}, "x": {"datum": 39000}, "y": {"datum": -0.57}}},
  {"data": {"values": []}, "mark": "line", "encoding": {"x": {"field": "r", "type": "quantitative"}, "y": {"field": "m", "type": "quantitative"}, "color": {"field": "k", "type": "nominal", "scale": {"domain": ["Enrichment profile", "Hits", "Ranking metric scores"], "range": ["#27b34f", "#444444", "#bbbbbb"]}, "legend": {"title": null}}}}
 ]}
]},
{"width": 52, "height": 222, "data": {"values": []}, "mark": "rect", "view": {"stroke": null, "fill": "white"}},
{"title": {"text": "Enrichment plot: HALLMARK_MYC_TARGETS_V2"}, "spacing": 0, "bounds": "flush", "vconcat": [
 {"width": 174, "height": 80, "layer": [
  {"data": {"name": "e5"}, "mark": {"type": "line", "color": "#27b34f", "strokeWidth": 1.2}, "encoding": {"x": {"field": "r", "type": "quantitative", "scale": {"domain": [0, 60000]}, "axis": {"labels": false, "ticks": false, "title": null, "values": [0,10000,20000,30000,40000,50000,60000]}}, "y": {"field": "es", "type": "quantitative", "scale": {"domain": [-0.036, 0.835], "nice": false, "zero": false}, "axis": {"title": "Enrichment score (ES)", "format": ".1f", "labelOverlap": false, "values": [0,0.1,0.2,0.3,0.4,0.5,0.6,0.7,0.8]}}}},
  {"data": {"values": [{}]}, "mark": {"type": "rule", "color": "#a3a3a3", "strokeWidth": 0.7}, "encoding": {"y": {"datum": 0}}},
  {"data": {"values": [{"v":0.1},{"v":0.2},{"v":0.3},{"v":0.4},{"v":0.5},{"v":0.6},{"v":0.7}]}, "mark": {"type": "text", "align": "right", "baseline": "middle", "dx": -2, "fontSize": 4.5, "color": "#444"}, "encoding": {"x": {"datum": 0}, "y": {"field": "v", "type": "quantitative"}, "text": {"field": "v", "type": "quantitative", "format": ".1f"}}},
  {"data": {"values": [{"t": "NES = 2.3051\nNOM p-val = 0\nFDR q-val = 0.0002"}]}, "mark": {"type": "text", "fontSize": 16, "lineHeight": 18.7, "lineBreak": "\n", "align": "left", "baseline": "top", "dy": 4, "color": "#111"}, "encoding": {"text": {"field": "t"}, "x": {"datum": 12400}, "y": {"datum": 0.835}}}
 ]},
 {"width": 174, "height": 27, "data": {"name": "h5"}, "mark": {"type": "rule", "color": "#000000", "strokeWidth": 0.8}, "encoding": {"x": {"field": "r", "type": "quantitative", "scale": {"domain": [0, 60000]}, "axis": null}}},
 {"width": 174, "height": 7, "data": {"name": "bar"}, "mark": "rect", "encoding": {"x": {"field": "a", "type": "quantitative", "scale": {"domain": [0, 60000]}, "axis": null}, "x2": {"field": "b"}, "fill": {"field": "k", "type": "ordinal", "scale": {"range": ["#e85d45","#ec7058","#f08a70","#f4a287","#f6c3c8","#dcdaee","#c9c6e5","#9c98cf","#7c67b1","#5a3898","#421f82"]}, "legend": null}}},
 {"width": 174, "height": 56, "layer": [
  {"data": {"name": "rank"}, "mark": {"type": "area", "color": "#bdb5b5"}, "encoding": {"x": {"field": "r", "type": "quantitative", "scale": {"domain": [0, 60000]}, "axis": {"title": "Rank in Ordered Dataset", "format": ",d", "labelOverlap": false, "values": [0,10000,20000,30000,40000,50000,60000]}}, "y": {"field": "m", "type": "quantitative", "stack": null, "scale": {"domain": [-0.85, 2.7], "nice": false, "zero": false}, "axis": {"title": "Ranked list metric (Signal2Noise)", "format": ".1f", "labelOverlap": false, "values": [-0.5,0,0.5,1,1.5,2,2.5]}}, "y2": {"datum": 0}}},
  {"data": {"values": [{}]}, "mark": {"type": "rule", "color": "#8c8c8c", "strokeWidth": 0.6, "strokeDash": [2, 2]}, "encoding": {"x": {"datum": 21957}}},
  {"data": {"name": "ytk"}, "mark": {"type": "text", "align": "right", "baseline": "middle", "dx": -2, "fontSize": 4.5, "color": "#444"}, "encoding": {"x": {"datum": 0}, "y": {"field": "v", "type": "quantitative"}, "text": {"field": "v", "type": "quantitative", "format": ".1f"}}},
  {"data": {"name": "xtk"}, "mark": {"type": "text", "align": "center", "baseline": "top", "dy": 3, "fontSize": 4.5, "color": "#444"}, "encoding": {"x": {"field": "u", "type": "quantitative"}, "y": {"datum": -0.85}, "text": {"field": "u", "type": "quantitative", "format": ",d"}}},
  {"data": {"values": [{"t": "Zero cross at 21957"}]}, "mark": {"type": "text", "fontSize": 4, "color": "#333"}, "encoding": {"text": {"field": "t"}, "x": {"datum": 21500}, "y": {"datum": 0.95}}},
  {"data": {"values": [{"t": "'h' (positively correlated)"}]}, "mark": {"type": "text", "fontSize": 4, "color": "#e2553a", "align": "left"}, "encoding": {"text": {"field": "t"}, "x": {"datum": 700}, "y": {"datum": 2.58}}},
  {"data": {"values": [{"t": "'l' (negatively correlated)"}]}, "mark": {"type": "text", "fontSize": 4, "color": "#4646b4"}, "encoding": {"text": {"field": "t"}, "x": {"datum": 39000}, "y": {"datum": -0.57}}},
  {"data": {"values": []}, "mark": "line", "encoding": {"x": {"field": "r", "type": "quantitative"}, "y": {"field": "m", "type": "quantitative"}, "color": {"field": "k", "type": "nominal", "scale": {"domain": ["Enrichment profile", "Hits", "Ranking metric scores"], "range": ["#27b34f", "#444444", "#bbbbbb"]}, "legend": {"title": null}}}}
 ]}
]},
{"width": 40, "height": 222, "data": {"values": []}, "mark": "rect", "view": {"stroke": null, "fill": "white"}}
]},
{"width": 1270, "height": 39, "data": {"values": []}, "mark": "rect", "view": {"stroke": null, "fill": "white"}},
{"spacing": 5, "center": true, "resolve": {"scale": {"color": "independent"}}, "hconcat": [
{"width": 7, "height": 222, "data": {"values": []}, "mark": "rect", "view": {"stroke": null, "fill": "white"}},
{"title": {"text": "Enrichment plot: HALLMARK_G2M_CHECKPOINT"}, "spacing": 0, "bounds": "flush", "vconcat": [
 {"width": 174, "height": 80, "layer": [
  {"data": {"name": "e6"}, "mark": {"type": "line", "color": "#27b34f", "strokeWidth": 1.2}, "encoding": {"x": {"field": "r", "type": "quantitative", "scale": {"domain": [0, 60000]}, "axis": {"labels": false, "ticks": false, "title": null, "values": [0,10000,20000,30000,40000,50000,60000]}}, "y": {"field": "es", "type": "quantitative", "scale": {"domain": [-0.03, 0.825], "nice": false, "zero": false}, "axis": {"title": "Enrichment score (ES)", "format": ".1f", "labelOverlap": false, "values": [0,0.1,0.2,0.3,0.4,0.5,0.6,0.7,0.8]}}}},
  {"data": {"values": [{}]}, "mark": {"type": "rule", "color": "#a3a3a3", "strokeWidth": 0.7}, "encoding": {"y": {"datum": 0}}},
  {"data": {"values": [{"v":0.1},{"v":0.2},{"v":0.3},{"v":0.4},{"v":0.5},{"v":0.6},{"v":0.7}]}, "mark": {"type": "text", "align": "right", "baseline": "middle", "dx": -2, "fontSize": 4.5, "color": "#444"}, "encoding": {"x": {"datum": 0}, "y": {"field": "v", "type": "quantitative"}, "text": {"field": "v", "type": "quantitative", "format": ".1f"}}},
  {"data": {"values": [{"t": "NES = 2.1525\nNOM p-val = 0\nFDR q-val = 0.0011"}]}, "mark": {"type": "text", "fontSize": 16, "lineHeight": 18.7, "lineBreak": "\n", "align": "left", "baseline": "top", "dy": 4, "color": "#111"}, "encoding": {"text": {"field": "t"}, "x": {"datum": 10700}, "y": {"datum": 0.825}}}
 ]},
 {"width": 174, "height": 27, "data": {"name": "h6"}, "mark": {"type": "rule", "color": "#000000", "strokeWidth": 0.8}, "encoding": {"x": {"field": "r", "type": "quantitative", "scale": {"domain": [0, 60000]}, "axis": null}}},
 {"width": 174, "height": 7, "data": {"name": "bar"}, "mark": "rect", "encoding": {"x": {"field": "a", "type": "quantitative", "scale": {"domain": [0, 60000]}, "axis": null}, "x2": {"field": "b"}, "fill": {"field": "k", "type": "ordinal", "scale": {"range": ["#e85d45","#ec7058","#f08a70","#f4a287","#f6c3c8","#dcdaee","#c9c6e5","#9c98cf","#7c67b1","#5a3898","#421f82"]}, "legend": null}}},
 {"width": 174, "height": 56, "layer": [
  {"data": {"name": "rank"}, "mark": {"type": "area", "color": "#bdb5b5"}, "encoding": {"x": {"field": "r", "type": "quantitative", "scale": {"domain": [0, 60000]}, "axis": {"title": "Rank in Ordered Dataset", "format": ",d", "labelOverlap": false, "values": [0,10000,20000,30000,40000,50000,60000]}}, "y": {"field": "m", "type": "quantitative", "stack": null, "scale": {"domain": [-0.85, 2.7], "nice": false, "zero": false}, "axis": {"title": "Ranked list metric (Signal2Noise)", "format": ".1f", "labelOverlap": false, "values": [-0.5,0,0.5,1,1.5,2,2.5]}}, "y2": {"datum": 0}}},
  {"data": {"values": [{}]}, "mark": {"type": "rule", "color": "#8c8c8c", "strokeWidth": 0.6, "strokeDash": [2, 2]}, "encoding": {"x": {"datum": 21957}}},
  {"data": {"name": "ytk"}, "mark": {"type": "text", "align": "right", "baseline": "middle", "dx": -2, "fontSize": 4.5, "color": "#444"}, "encoding": {"x": {"datum": 0}, "y": {"field": "v", "type": "quantitative"}, "text": {"field": "v", "type": "quantitative", "format": ".1f"}}},
  {"data": {"name": "xtk"}, "mark": {"type": "text", "align": "center", "baseline": "top", "dy": 3, "fontSize": 4.5, "color": "#444"}, "encoding": {"x": {"field": "u", "type": "quantitative"}, "y": {"datum": -0.85}, "text": {"field": "u", "type": "quantitative", "format": ",d"}}},
  {"data": {"values": [{"t": "Zero cross at 21957"}]}, "mark": {"type": "text", "fontSize": 4, "color": "#333"}, "encoding": {"text": {"field": "t"}, "x": {"datum": 21500}, "y": {"datum": 0.95}}},
  {"data": {"values": [{"t": "'h' (positively correlated)"}]}, "mark": {"type": "text", "fontSize": 4, "color": "#e2553a", "align": "left"}, "encoding": {"text": {"field": "t"}, "x": {"datum": 700}, "y": {"datum": 2.58}}},
  {"data": {"values": [{"t": "'l' (negatively correlated)"}]}, "mark": {"type": "text", "fontSize": 4, "color": "#4646b4"}, "encoding": {"text": {"field": "t"}, "x": {"datum": 39000}, "y": {"datum": -0.57}}},
  {"data": {"values": []}, "mark": "line", "encoding": {"x": {"field": "r", "type": "quantitative"}, "y": {"field": "m", "type": "quantitative"}, "color": {"field": "k", "type": "nominal", "scale": {"domain": ["Enrichment profile", "Hits", "Ranking metric scores"], "range": ["#27b34f", "#444444", "#bbbbbb"]}, "legend": {"title": null}}}}
 ]}
]},
{"width": 52, "height": 222, "data": {"values": []}, "mark": "rect", "view": {"stroke": null, "fill": "white"}},
{"title": {"text": "Enrichment plot: HALLMARK_E2F_TARGETS"}, "spacing": 0, "bounds": "flush", "vconcat": [
 {"width": 174, "height": 80, "layer": [
  {"data": {"name": "e7"}, "mark": {"type": "line", "color": "#27b34f", "strokeWidth": 1.2}, "encoding": {"x": {"field": "r", "type": "quantitative", "scale": {"domain": [0, 60000]}, "axis": {"labels": false, "ticks": false, "title": null, "values": [0,10000,20000,30000,40000,50000,60000]}}, "y": {"field": "es", "type": "quantitative", "scale": {"domain": [-0.03, 0.865], "nice": false, "zero": false}, "axis": {"title": "Enrichment score (ES)", "format": ".1f", "labelOverlap": false, "values": [0,0.1,0.2,0.3,0.4,0.5,0.6,0.7,0.8]}}}},
  {"data": {"values": [{}]}, "mark": {"type": "rule", "color": "#a3a3a3", "strokeWidth": 0.7}, "encoding": {"y": {"datum": 0}}},
  {"data": {"values": [{"v":0.1},{"v":0.2},{"v":0.3},{"v":0.4},{"v":0.5},{"v":0.6},{"v":0.7}]}, "mark": {"type": "text", "align": "right", "baseline": "middle", "dx": -2, "fontSize": 4.5, "color": "#444"}, "encoding": {"x": {"datum": 0}, "y": {"field": "v", "type": "quantitative"}, "text": {"field": "v", "type": "quantitative", "format": ".1f"}}},
  {"data": {"values": [{"t": "NES = 2.1065\nNOM p-val = 0\nFDR q-val = 0.0027"}]}, "mark": {"type": "text", "fontSize": 16, "lineHeight": 18.7, "lineBreak": "\n", "align": "left", "baseline": "top", "dy": 4, "color": "#111"}, "encoding": {"text": {"field": "t"}, "x": {"datum": 10500}, "y": {"datum": 0.865}}}
 ]},
 {"width": 174, "height": 27, "data": {"name": "h7"}, "mark": {"type": "rule", "color": "#000000", "strokeWidth": 0.8}, "encoding": {"x": {"field": "r", "type": "quantitative", "scale": {"domain": [0, 60000]}, "axis": null}}},
 {"width": 174, "height": 7, "data": {"name": "bar"}, "mark": "rect", "encoding": {"x": {"field": "a", "type": "quantitative", "scale": {"domain": [0, 60000]}, "axis": null}, "x2": {"field": "b"}, "fill": {"field": "k", "type": "ordinal", "scale": {"range": ["#e85d45","#ec7058","#f08a70","#f4a287","#f6c3c8","#dcdaee","#c9c6e5","#9c98cf","#7c67b1","#5a3898","#421f82"]}, "legend": null}}},
 {"width": 174, "height": 56, "layer": [
  {"data": {"name": "rank"}, "mark": {"type": "area", "color": "#bdb5b5"}, "encoding": {"x": {"field": "r", "type": "quantitative", "scale": {"domain": [0, 60000]}, "axis": {"title": "Rank in Ordered Dataset", "format": ",d", "labelOverlap": false, "values": [0,10000,20000,30000,40000,50000,60000]}}, "y": {"field": "m", "type": "quantitative", "stack": null, "scale": {"domain": [-0.85, 2.7], "nice": false, "zero": false}, "axis": {"title": "Ranked list metric (Signal2Noise)", "format": ".1f", "labelOverlap": false, "values": [-0.5,0,0.5,1,1.5,2,2.5]}}, "y2": {"datum": 0}}},
  {"data": {"values": [{}]}, "mark": {"type": "rule", "color": "#8c8c8c", "strokeWidth": 0.6, "strokeDash": [2, 2]}, "encoding": {"x": {"datum": 21957}}},
  {"data": {"name": "ytk"}, "mark": {"type": "text", "align": "right", "baseline": "middle", "dx": -2, "fontSize": 4.5, "color": "#444"}, "encoding": {"x": {"datum": 0}, "y": {"field": "v", "type": "quantitative"}, "text": {"field": "v", "type": "quantitative", "format": ".1f"}}},
  {"data": {"name": "xtk"}, "mark": {"type": "text", "align": "center", "baseline": "top", "dy": 3, "fontSize": 4.5, "color": "#444"}, "encoding": {"x": {"field": "u", "type": "quantitative"}, "y": {"datum": -0.85}, "text": {"field": "u", "type": "quantitative", "format": ",d"}}},
  {"data": {"values": [{"t": "Zero cross at 21957"}]}, "mark": {"type": "text", "fontSize": 4, "color": "#333"}, "encoding": {"text": {"field": "t"}, "x": {"datum": 21500}, "y": {"datum": 0.95}}},
  {"data": {"values": [{"t": "'h' (positively correlated)"}]}, "mark": {"type": "text", "fontSize": 4, "color": "#e2553a", "align": "left"}, "encoding": {"text": {"field": "t"}, "x": {"datum": 700}, "y": {"datum": 2.58}}},
  {"data": {"values": [{"t": "'l' (negatively correlated)"}]}, "mark": {"type": "text", "fontSize": 4, "color": "#4646b4"}, "encoding": {"text": {"field": "t"}, "x": {"datum": 39000}, "y": {"datum": -0.57}}},
  {"data": {"values": []}, "mark": "line", "encoding": {"x": {"field": "r", "type": "quantitative"}, "y": {"field": "m", "type": "quantitative"}, "color": {"field": "k", "type": "nominal", "scale": {"domain": ["Enrichment profile", "Hits", "Ranking metric scores"], "range": ["#27b34f", "#444444", "#bbbbbb"]}, "legend": {"title": null}}}}
 ]}
]},
{"width": 52, "height": 222, "data": {"values": []}, "mark": "rect", "view": {"stroke": null, "fill": "white"}},
{"title": {"text": "Enrichment plot: HALLMARK_MITOTIC_SPINDLE"}, "spacing": 0, "bounds": "flush", "vconcat": [
 {"width": 174, "height": 80, "layer": [
  {"data": {"name": "e8"}, "mark": {"type": "line", "color": "#27b34f", "strokeWidth": 1.2}, "encoding": {"x": {"field": "r", "type": "quantitative", "scale": {"domain": [0, 60000]}, "axis": {"labels": false, "ticks": false, "title": null, "values": [0,10000,20000,30000,40000,50000,60000]}}, "y": {"field": "es", "type": "quantitative", "scale": {"domain": [-0.06, 0.64], "nice": false, "zero": false}, "axis": {"title": "Enrichment score (ES)", "format": ".1f", "labelOverlap": false, "values": [0,0.1,0.2,0.3,0.4,0.5,0.6]}}}},
  {"data": {"values": [{}]}, "mark": {"type": "rule", "color": "#a3a3a3", "strokeWidth": 0.7}, "encoding": {"y": {"datum": 0}}},
  {"data": {"values": [{"v":0.1},{"v":0.2},{"v":0.3},{"v":0.4},{"v":0.5}]}, "mark": {"type": "text", "align": "right", "baseline": "middle", "dx": -2, "fontSize": 4.5, "color": "#444"}, "encoding": {"x": {"datum": 0}, "y": {"field": "v", "type": "quantitative"}, "text": {"field": "v", "type": "quantitative", "format": ".1f"}}},
  {"data": {"values": [{"t": "NES = 2.0027\nNOM p-val = 0\nFDR q-val = 0.0062"}]}, "mark": {"type": "text", "fontSize": 16, "lineHeight": 18.7, "lineBreak": "\n", "align": "left", "baseline": "top", "dy": 4, "color": "#111"}, "encoding": {"text": {"field": "t"}, "x": {"datum": 10600}, "y": {"datum": 0.64}}}
 ]},
 {"width": 174, "height": 27, "data": {"name": "h8"}, "mark": {"type": "rule", "color": "#000000", "strokeWidth": 0.8}, "encoding": {"x": {"field": "r", "type": "quantitative", "scale": {"domain": [0, 60000]}, "axis": null}}},
 {"width": 174, "height": 7, "data": {"name": "bar"}, "mark": "rect", "encoding": {"x": {"field": "a", "type": "quantitative", "scale": {"domain": [0, 60000]}, "axis": null}, "x2": {"field": "b"}, "fill": {"field": "k", "type": "ordinal", "scale": {"range": ["#e85d45","#ec7058","#f08a70","#f4a287","#f6c3c8","#dcdaee","#c9c6e5","#9c98cf","#7c67b1","#5a3898","#421f82"]}, "legend": null}}},
 {"width": 174, "height": 56, "layer": [
  {"data": {"name": "rank"}, "mark": {"type": "area", "color": "#bdb5b5"}, "encoding": {"x": {"field": "r", "type": "quantitative", "scale": {"domain": [0, 60000]}, "axis": {"title": "Rank in Ordered Dataset", "format": ",d", "labelOverlap": false, "values": [0,10000,20000,30000,40000,50000,60000]}}, "y": {"field": "m", "type": "quantitative", "stack": null, "scale": {"domain": [-0.85, 2.7], "nice": false, "zero": false}, "axis": {"title": "Ranked list metric (Signal2Noise)", "format": ".1f", "labelOverlap": false, "values": [-0.5,0,0.5,1,1.5,2,2.5]}}, "y2": {"datum": 0}}},
  {"data": {"values": [{}]}, "mark": {"type": "rule", "color": "#8c8c8c", "strokeWidth": 0.6, "strokeDash": [2, 2]}, "encoding": {"x": {"datum": 21957}}},
  {"data": {"name": "ytk"}, "mark": {"type": "text", "align": "right", "baseline": "middle", "dx": -2, "fontSize": 4.5, "color": "#444"}, "encoding": {"x": {"datum": 0}, "y": {"field": "v", "type": "quantitative"}, "text": {"field": "v", "type": "quantitative", "format": ".1f"}}},
  {"data": {"name": "xtk"}, "mark": {"type": "text", "align": "center", "baseline": "top", "dy": 3, "fontSize": 4.5, "color": "#444"}, "encoding": {"x": {"field": "u", "type": "quantitative"}, "y": {"datum": -0.85}, "text": {"field": "u", "type": "quantitative", "format": ",d"}}},
  {"data": {"values": [{"t": "Zero cross at 21957"}]}, "mark": {"type": "text", "fontSize": 4, "color": "#333"}, "encoding": {"text": {"field": "t"}, "x": {"datum": 21500}, "y": {"datum": 0.95}}},
  {"data": {"values": [{"t": "'h' (positively correlated)"}]}, "mark": {"type": "text", "fontSize": 4, "color": "#e2553a", "align": "left"}, "encoding": {"text": {"field": "t"}, "x": {"datum": 700}, "y": {"datum": 2.58}}},
  {"data": {"values": [{"t": "'l' (negatively correlated)"}]}, "mark": {"type": "text", "fontSize": 4, "color": "#4646b4"}, "encoding": {"text": {"field": "t"}, "x": {"datum": 39000}, "y": {"datum": -0.57}}},
  {"data": {"values": []}, "mark": "line", "encoding": {"x": {"field": "r", "type": "quantitative"}, "y": {"field": "m", "type": "quantitative"}, "color": {"field": "k", "type": "nominal", "scale": {"domain": ["Enrichment profile", "Hits", "Ranking metric scores"], "range": ["#27b34f", "#444444", "#bbbbbb"]}, "legend": {"title": null}}}}
 ]}
]},
{"width": 52, "height": 222, "data": {"values": []}, "mark": "rect", "view": {"stroke": null, "fill": "white"}},
{"title": {"text": "Enrichment plot: HALLMARK_DNA_REPAIR"}, "spacing": 0, "bounds": "flush", "vconcat": [
 {"width": 174, "height": 80, "layer": [
  {"data": {"name": "e9"}, "mark": {"type": "line", "color": "#27b34f", "strokeWidth": 1.2}, "encoding": {"x": {"field": "r", "type": "quantitative", "scale": {"domain": [0, 60000]}, "axis": {"labels": false, "ticks": false, "title": null, "values": [0,10000,20000,30000,40000,50000,60000]}}, "y": {"field": "es", "type": "quantitative", "scale": {"domain": [-0.095, 0.513], "nice": false, "zero": false}, "axis": {"title": "Enrichment score (ES)", "format": ".1f", "labelOverlap": false, "values": [0,0.1,0.2,0.3,0.4,0.5]}}}},
  {"data": {"values": [{}]}, "mark": {"type": "rule", "color": "#a3a3a3", "strokeWidth": 0.7}, "encoding": {"y": {"datum": 0}}},
  {"data": {"values": [{"v":0.1},{"v":0.2},{"v":0.3},{"v":0.4}]}, "mark": {"type": "text", "align": "right", "baseline": "middle", "dx": -2, "fontSize": 4.5, "color": "#444"}, "encoding": {"x": {"datum": 0}, "y": {"field": "v", "type": "quantitative"}, "text": {"field": "v", "type": "quantitative", "format": ".1f"}}},
  {"data": {"values": [{"t": "NES = 1.9896\nNOM p-val = 0.0101\nFDR q-val = 0.0063"}]}, "mark": {"type": "text", "fontSize": 16, "lineHeight": 18.7, "lineBreak": "\n", "align": "left", "baseline": "top", "dy": 4, "color": "#111"}, "encoding": {"text": {"field": "t"}, "x": {"datum": 12000}, "y": {"datum": 0.513}}}
 ]},
 {"width": 174, "height": 27, "data": {"name": "h9"}, "mark": {"type": "rule", "color": "#000000", "strokeWidth": 0.8}, "encoding": {"x": {"field": "r", "type": "quantitative", "scale": {"domain": [0, 60000]}, "axis": null}}},
 {"width": 174, "height": 7, "data": {"name": "bar"}, "mark": "rect", "encoding": {"x": {"field": "a", "type": "quantitative", "scale": {"domain": [0, 60000]}, "axis": null}, "x2": {"field": "b"}, "fill": {"field": "k", "type": "ordinal", "scale": {"range": ["#e85d45","#ec7058","#f08a70","#f4a287","#f6c3c8","#dcdaee","#c9c6e5","#9c98cf","#7c67b1","#5a3898","#421f82"]}, "legend": null}}},
 {"width": 174, "height": 56, "layer": [
  {"data": {"name": "rank"}, "mark": {"type": "area", "color": "#bdb5b5"}, "encoding": {"x": {"field": "r", "type": "quantitative", "scale": {"domain": [0, 60000]}, "axis": {"title": "Rank in Ordered Dataset", "format": ",d", "labelOverlap": false, "values": [0,10000,20000,30000,40000,50000,60000]}}, "y": {"field": "m", "type": "quantitative", "stack": null, "scale": {"domain": [-0.85, 2.7], "nice": false, "zero": false}, "axis": {"title": "Ranked list metric (Signal2Noise)", "format": ".1f", "labelOverlap": false, "values": [-0.5,0,0.5,1,1.5,2,2.5]}}, "y2": {"datum": 0}}},
  {"data": {"values": [{}]}, "mark": {"type": "rule", "color": "#8c8c8c", "strokeWidth": 0.6, "strokeDash": [2, 2]}, "encoding": {"x": {"datum": 21957}}},
  {"data": {"name": "ytk"}, "mark": {"type": "text", "align": "right", "baseline": "middle", "dx": -2, "fontSize": 4.5, "color": "#444"}, "encoding": {"x": {"datum": 0}, "y": {"field": "v", "type": "quantitative"}, "text": {"field": "v", "type": "quantitative", "format": ".1f"}}},
  {"data": {"name": "xtk"}, "mark": {"type": "text", "align": "center", "baseline": "top", "dy": 3, "fontSize": 4.5, "color": "#444"}, "encoding": {"x": {"field": "u", "type": "quantitative"}, "y": {"datum": -0.85}, "text": {"field": "u", "type": "quantitative", "format": ",d"}}},
  {"data": {"values": [{"t": "Zero cross at 21957"}]}, "mark": {"type": "text", "fontSize": 4, "color": "#333"}, "encoding": {"text": {"field": "t"}, "x": {"datum": 21500}, "y": {"datum": 0.95}}},
  {"data": {"values": [{"t": "'h' (positively correlated)"}]}, "mark": {"type": "text", "fontSize": 4, "color": "#e2553a", "align": "left"}, "encoding": {"text": {"field": "t"}, "x": {"datum": 700}, "y": {"datum": 2.58}}},
  {"data": {"values": [{"t": "'l' (negatively correlated)"}]}, "mark": {"type": "text", "fontSize": 4, "color": "#4646b4"}, "encoding": {"text": {"field": "t"}, "x": {"datum": 39000}, "y": {"datum": -0.57}}},
  {"data": {"values": []}, "mark": "line", "encoding": {"x": {"field": "r", "type": "quantitative"}, "y": {"field": "m", "type": "quantitative"}, "color": {"field": "k", "type": "nominal", "scale": {"domain": ["Enrichment profile", "Hits", "Ranking metric scores"], "range": ["#27b34f", "#444444", "#bbbbbb"]}, "legend": {"title": null}}}}
 ]}
]},
{"width": 52, "height": 222, "data": {"values": []}, "mark": "rect", "view": {"stroke": null, "fill": "white"}},
{"title": {"text": ["Enrichment plot:", "HALLMARK_ESTROGEN_RESPONSE_LATE"]}, "spacing": 0, "bounds": "flush", "vconcat": [
 {"width": 174, "height": 71, "layer": [
  {"data": {"name": "e10"}, "mark": {"type": "line", "color": "#27b34f", "strokeWidth": 1.2}, "encoding": {"x": {"field": "r", "type": "quantitative", "scale": {"domain": [0, 60000]}, "axis": {"labels": false, "ticks": false, "title": null, "values": [0,10000,20000,30000,40000,50000,60000]}}, "y": {"field": "es", "type": "quantitative", "scale": {"domain": [-0.2, 0.43], "nice": false, "zero": false}, "axis": {"title": "Enrichment score (ES)", "format": ".1f", "labelOverlap": false, "values": [-0.2,-0.1,0,0.1,0.2,0.3,0.4]}}}},
  {"data": {"values": [{}]}, "mark": {"type": "rule", "color": "#a3a3a3", "strokeWidth": 0.7}, "encoding": {"y": {"datum": 0}}},
  {"data": {"values": [{"v":-0.1},{"v":0},{"v":0.1},{"v":0.2},{"v":0.3}]}, "mark": {"type": "text", "align": "right", "baseline": "middle", "dx": -2, "fontSize": 4.5, "color": "#444"}, "encoding": {"x": {"datum": 0}, "y": {"field": "v", "type": "quantitative"}, "text": {"field": "v", "type": "quantitative", "format": ".1f"}}},
  {"data": {"values": [{"t": "NES = 1.6505\nNOM p-val = 0.0117\nFDR q-val = 0.0791"}]}, "mark": {"type": "text", "fontSize": 16, "lineHeight": 18.7, "lineBreak": "\n", "align": "left", "baseline": "top", "dy": 4, "color": "#111"}, "encoding": {"text": {"field": "t"}, "x": {"datum": 12000}, "y": {"datum": 0.43}}}
 ]},
 {"width": 174, "height": 27, "data": {"name": "h10"}, "mark": {"type": "rule", "color": "#000000", "strokeWidth": 0.8}, "encoding": {"x": {"field": "r", "type": "quantitative", "scale": {"domain": [0, 60000]}, "axis": null}}},
 {"width": 174, "height": 7, "data": {"name": "bar"}, "mark": "rect", "encoding": {"x": {"field": "a", "type": "quantitative", "scale": {"domain": [0, 60000]}, "axis": null}, "x2": {"field": "b"}, "fill": {"field": "k", "type": "ordinal", "scale": {"range": ["#e85d45","#ec7058","#f08a70","#f4a287","#f6c3c8","#dcdaee","#c9c6e5","#9c98cf","#7c67b1","#5a3898","#421f82"]}, "legend": null}}},
 {"width": 174, "height": 56, "layer": [
  {"data": {"name": "rank"}, "mark": {"type": "area", "color": "#bdb5b5"}, "encoding": {"x": {"field": "r", "type": "quantitative", "scale": {"domain": [0, 60000]}, "axis": {"title": "Rank in Ordered Dataset", "format": ",d", "labelOverlap": false, "values": [0,10000,20000,30000,40000,50000,60000]}}, "y": {"field": "m", "type": "quantitative", "stack": null, "scale": {"domain": [-0.85, 2.7], "nice": false, "zero": false}, "axis": {"title": "Ranked list metric (Signal2Noise)", "format": ".1f", "labelOverlap": false, "values": [-0.5,0,0.5,1,1.5,2,2.5]}}, "y2": {"datum": 0}}},
  {"data": {"values": [{}]}, "mark": {"type": "rule", "color": "#8c8c8c", "strokeWidth": 0.6, "strokeDash": [2, 2]}, "encoding": {"x": {"datum": 21957}}},
  {"data": {"name": "ytk"}, "mark": {"type": "text", "align": "right", "baseline": "middle", "dx": -2, "fontSize": 4.5, "color": "#444"}, "encoding": {"x": {"datum": 0}, "y": {"field": "v", "type": "quantitative"}, "text": {"field": "v", "type": "quantitative", "format": ".1f"}}},
  {"data": {"name": "xtk"}, "mark": {"type": "text", "align": "center", "baseline": "top", "dy": 3, "fontSize": 4.5, "color": "#444"}, "encoding": {"x": {"field": "u", "type": "quantitative"}, "y": {"datum": -0.85}, "text": {"field": "u", "type": "quantitative", "format": ",d"}}},
  {"data": {"values": [{"t": "Zero cross at 21957"}]}, "mark": {"type": "text", "fontSize": 4, "color": "#333"}, "encoding": {"text": {"field": "t"}, "x": {"datum": 21500}, "y": {"datum": 0.95}}},
  {"data": {"values": [{"t": "'h' (positively correlated)"}]}, "mark": {"type": "text", "fontSize": 4, "color": "#e2553a", "align": "left"}, "encoding": {"text": {"field": "t"}, "x": {"datum": 700}, "y": {"datum": 2.58}}},
  {"data": {"values": [{"t": "'l' (negatively correlated)"}]}, "mark": {"type": "text", "fontSize": 4, "color": "#4646b4"}, "encoding": {"text": {"field": "t"}, "x": {"datum": 39000}, "y": {"datum": -0.57}}},
  {"data": {"values": []}, "mark": "line", "encoding": {"x": {"field": "r", "type": "quantitative"}, "y": {"field": "m", "type": "quantitative"}, "color": {"field": "k", "type": "nominal", "scale": {"domain": ["Enrichment profile", "Hits", "Ranking metric scores"], "range": ["#27b34f", "#444444", "#bbbbbb"]}, "legend": {"title": null}}}}
 ]}
]},
{"width": 40, "height": 222, "data": {"values": []}, "mark": "rect", "view": {"stroke": null, "fill": "white"}}
]},
{"width": 1270, "height": 33, "data": {"values": []}, "mark": "rect", "view": {"stroke": null, "fill": "white"}},
{"spacing": 5, "center": true, "resolve": {"scale": {"color": "independent"}}, "hconcat": [
{"width": 266, "height": 217, "data": {"values": []}, "mark": "rect", "view": {"stroke": null, "fill": "white"}},
{"title": {"text": "Enrichment plot: HALLMARK_UV_RESPONSE_UP"}, "spacing": 0, "bounds": "flush", "vconcat": [
 {"width": 174, "height": 78, "layer": [
  {"data": {"name": "e11"}, "mark": {"type": "line", "color": "#27b34f", "strokeWidth": 1.2}, "encoding": {"x": {"field": "r", "type": "quantitative", "scale": {"domain": [0, 60000]}, "axis": {"labels": false, "ticks": false, "title": null, "values": [0,10000,20000,30000,40000,50000,60000]}}, "y": {"field": "es", "type": "quantitative", "scale": {"domain": [-0.24, 0.365], "nice": false, "zero": false}, "axis": {"title": "Enrichment score (ES)", "format": ".1f", "labelOverlap": false, "values": [-0.2,-0.1,0,0.1,0.2,0.3]}}}},
  {"data": {"values": [{}]}, "mark": {"type": "rule", "color": "#a3a3a3", "strokeWidth": 0.7}, "encoding": {"y": {"datum": 0}}},
  {"data": {"values": [{"v":-0.1},{"v":0},{"v":0.1},{"v":0.2}]}, "mark": {"type": "text", "align": "right", "baseline": "middle", "dx": -2, "fontSize": 4.5, "color": "#444"}, "encoding": {"x": {"datum": 0}, "y": {"field": "v", "type": "quantitative"}, "text": {"field": "v", "type": "quantitative", "format": ".1f"}}},
  {"data": {"values": [{"t": "NES = 1.6043\nNOM p-val = 0.0288\nFDR q-val = 0.0891"}]}, "mark": {"type": "text", "fontSize": 16, "lineHeight": 18.7, "lineBreak": "\n", "align": "left", "baseline": "top", "dy": 4, "color": "#111"}, "encoding": {"text": {"field": "t"}, "x": {"datum": 10400}, "y": {"datum": 0.365}}}
 ]},
 {"width": 174, "height": 26, "data": {"name": "h11"}, "mark": {"type": "rule", "color": "#000000", "strokeWidth": 0.8}, "encoding": {"x": {"field": "r", "type": "quantitative", "scale": {"domain": [0, 60000]}, "axis": null}}},
 {"width": 174, "height": 7, "data": {"name": "bar"}, "mark": "rect", "encoding": {"x": {"field": "a", "type": "quantitative", "scale": {"domain": [0, 60000]}, "axis": null}, "x2": {"field": "b"}, "fill": {"field": "k", "type": "ordinal", "scale": {"range": ["#e85d45","#ec7058","#f08a70","#f4a287","#f6c3c8","#dcdaee","#c9c6e5","#9c98cf","#7c67b1","#5a3898","#421f82"]}, "legend": null}}},
 {"width": 174, "height": 54, "layer": [
  {"data": {"name": "rank"}, "mark": {"type": "area", "color": "#bdb5b5"}, "encoding": {"x": {"field": "r", "type": "quantitative", "scale": {"domain": [0, 60000]}, "axis": {"title": "Rank in Ordered Dataset", "format": ",d", "labelOverlap": false, "values": [0,10000,20000,30000,40000,50000,60000]}}, "y": {"field": "m", "type": "quantitative", "stack": null, "scale": {"domain": [-0.85, 2.7], "nice": false, "zero": false}, "axis": {"title": "Ranked list metric (Signal2Noise)", "format": ".1f", "labelOverlap": false, "values": [-0.5,0,0.5,1,1.5,2,2.5]}}, "y2": {"datum": 0}}},
  {"data": {"values": [{}]}, "mark": {"type": "rule", "color": "#8c8c8c", "strokeWidth": 0.6, "strokeDash": [2, 2]}, "encoding": {"x": {"datum": 21957}}},
  {"data": {"name": "ytk"}, "mark": {"type": "text", "align": "right", "baseline": "middle", "dx": -2, "fontSize": 4.5, "color": "#444"}, "encoding": {"x": {"datum": 0}, "y": {"field": "v", "type": "quantitative"}, "text": {"field": "v", "type": "quantitative", "format": ".1f"}}},
  {"data": {"name": "xtk"}, "mark": {"type": "text", "align": "center", "baseline": "top", "dy": 3, "fontSize": 4.5, "color": "#444"}, "encoding": {"x": {"field": "u", "type": "quantitative"}, "y": {"datum": -0.85}, "text": {"field": "u", "type": "quantitative", "format": ",d"}}},
  {"data": {"values": [{"t": "Zero cross at 21957"}]}, "mark": {"type": "text", "fontSize": 4, "color": "#333"}, "encoding": {"text": {"field": "t"}, "x": {"datum": 21500}, "y": {"datum": 0.95}}},
  {"data": {"values": [{"t": "'h' (positively correlated)"}]}, "mark": {"type": "text", "fontSize": 4, "color": "#e2553a", "align": "left"}, "encoding": {"text": {"field": "t"}, "x": {"datum": 700}, "y": {"datum": 2.58}}},
  {"data": {"values": [{"t": "'l' (negatively correlated)"}]}, "mark": {"type": "text", "fontSize": 4, "color": "#4646b4"}, "encoding": {"text": {"field": "t"}, "x": {"datum": 39000}, "y": {"datum": -0.57}}},
  {"data": {"values": []}, "mark": "line", "encoding": {"x": {"field": "r", "type": "quantitative"}, "y": {"field": "m", "type": "quantitative"}, "color": {"field": "k", "type": "nominal", "scale": {"domain": ["Enrichment profile", "Hits", "Ranking metric scores"], "range": ["#27b34f", "#444444", "#bbbbbb"]}, "legend": {"title": null}}}}
 ]}
]},
{"width": 52, "height": 217, "data": {"values": []}, "mark": "rect", "view": {"stroke": null, "fill": "white"}},
{"title": {"text": "Enrichment plot: HALLMARK_SPERMATOGENESIS"}, "spacing": 0, "bounds": "flush", "vconcat": [
 {"width": 174, "height": 78, "layer": [
  {"data": {"name": "e12"}, "mark": {"type": "line", "color": "#27b34f", "strokeWidth": 1.2}, "encoding": {"x": {"field": "r", "type": "quantitative", "scale": {"domain": [0, 60000]}, "axis": {"labels": false, "ticks": false, "title": null, "values": [0,10000,20000,30000,40000,50000,60000]}}, "y": {"field": "es", "type": "quantitative", "scale": {"domain": [-0.11, 0.44], "nice": false, "zero": false}, "axis": {"title": "Enrichment score (ES)", "format": ".1f", "labelOverlap": false, "values": [-0.1,0,0.1,0.2,0.3,0.4]}}}},
  {"data": {"values": [{}]}, "mark": {"type": "rule", "color": "#a3a3a3", "strokeWidth": 0.7}, "encoding": {"y": {"datum": 0}}},
  {"data": {"values": [{"v":0},{"v":0.1},{"v":0.2},{"v":0.3}]}, "mark": {"type": "text", "align": "right", "baseline": "middle", "dx": -2, "fontSize": 4.5, "color": "#444"}, "encoding": {"x": {"datum": 0}, "y": {"field": "v", "type": "quantitative"}, "text": {"field": "v", "type": "quantitative", "format": ".1f"}}},
  {"data": {"values": [{"t": "NES = 1.6373\nNOM p-val = 0.0291\nFDR q-val = 0.0789"}]}, "mark": {"type": "text", "fontSize": 16, "lineHeight": 18.7, "lineBreak": "\n", "align": "left", "baseline": "top", "dy": 4, "color": "#111"}, "encoding": {"text": {"field": "t"}, "x": {"datum": 10400}, "y": {"datum": 0.44}}}
 ]},
 {"width": 174, "height": 26, "data": {"name": "h12"}, "mark": {"type": "rule", "color": "#000000", "strokeWidth": 0.8}, "encoding": {"x": {"field": "r", "type": "quantitative", "scale": {"domain": [0, 60000]}, "axis": null}}},
 {"width": 174, "height": 7, "data": {"name": "bar"}, "mark": "rect", "encoding": {"x": {"field": "a", "type": "quantitative", "scale": {"domain": [0, 60000]}, "axis": null}, "x2": {"field": "b"}, "fill": {"field": "k", "type": "ordinal", "scale": {"range": ["#e85d45","#ec7058","#f08a70","#f4a287","#f6c3c8","#dcdaee","#c9c6e5","#9c98cf","#7c67b1","#5a3898","#421f82"]}, "legend": null}}},
 {"width": 174, "height": 54, "layer": [
  {"data": {"name": "rank"}, "mark": {"type": "area", "color": "#bdb5b5"}, "encoding": {"x": {"field": "r", "type": "quantitative", "scale": {"domain": [0, 60000]}, "axis": {"title": "Rank in Ordered Dataset", "format": ",d", "labelOverlap": false, "values": [0,10000,20000,30000,40000,50000,60000]}}, "y": {"field": "m", "type": "quantitative", "stack": null, "scale": {"domain": [-0.85, 2.7], "nice": false, "zero": false}, "axis": {"title": "Ranked list metric (Signal2Noise)", "format": ".1f", "labelOverlap": false, "values": [-0.5,0,0.5,1,1.5,2,2.5]}}, "y2": {"datum": 0}}},
  {"data": {"values": [{}]}, "mark": {"type": "rule", "color": "#8c8c8c", "strokeWidth": 0.6, "strokeDash": [2, 2]}, "encoding": {"x": {"datum": 21957}}},
  {"data": {"name": "ytk"}, "mark": {"type": "text", "align": "right", "baseline": "middle", "dx": -2, "fontSize": 4.5, "color": "#444"}, "encoding": {"x": {"datum": 0}, "y": {"field": "v", "type": "quantitative"}, "text": {"field": "v", "type": "quantitative", "format": ".1f"}}},
  {"data": {"name": "xtk"}, "mark": {"type": "text", "align": "center", "baseline": "top", "dy": 3, "fontSize": 4.5, "color": "#444"}, "encoding": {"x": {"field": "u", "type": "quantitative"}, "y": {"datum": -0.85}, "text": {"field": "u", "type": "quantitative", "format": ",d"}}},
  {"data": {"values": [{"t": "Zero cross at 21957"}]}, "mark": {"type": "text", "fontSize": 4, "color": "#333"}, "encoding": {"text": {"field": "t"}, "x": {"datum": 21500}, "y": {"datum": 0.95}}},
  {"data": {"values": [{"t": "'h' (positively correlated)"}]}, "mark": {"type": "text", "fontSize": 4, "color": "#e2553a", "align": "left"}, "encoding": {"text": {"field": "t"}, "x": {"datum": 700}, "y": {"datum": 2.58}}},
  {"data": {"values": [{"t": "'l' (negatively correlated)"}]}, "mark": {"type": "text", "fontSize": 4, "color": "#4646b4"}, "encoding": {"text": {"field": "t"}, "x": {"datum": 39000}, "y": {"datum": -0.57}}},
  {"data": {"values": []}, "mark": "line", "encoding": {"x": {"field": "r", "type": "quantitative"}, "y": {"field": "m", "type": "quantitative"}, "color": {"field": "k", "type": "nominal", "scale": {"domain": ["Enrichment profile", "Hits", "Ranking metric scores"], "range": ["#27b34f", "#444444", "#bbbbbb"]}, "legend": {"title": null}}}}
 ]}
]},
{"width": 52, "height": 217, "data": {"values": []}, "mark": "rect", "view": {"stroke": null, "fill": "white"}},
{"title": {"text": "Enrichment plot: HALLMARK_HYPOXIA"}, "spacing": 0, "bounds": "flush", "vconcat": [
 {"width": 174, "height": 78, "layer": [
  {"data": {"name": "e13"}, "mark": {"type": "line", "color": "#27b34f", "strokeWidth": 1.2}, "encoding": {"x": {"field": "r", "type": "quantitative", "scale": {"domain": [0, 60000]}, "axis": {"labels": false, "ticks": false, "title": null, "values": [0,10000,20000,30000,40000,50000,60000]}}, "y": {"field": "es", "type": "quantitative", "scale": {"domain": [-0.14, 0.445], "nice": false, "zero": false}, "axis": {"title": "Enrichment score (ES)", "format": ".1f", "labelOverlap": false, "values": [-0.1,0,0.1,0.2,0.3,0.4]}}}},
  {"data": {"values": [{}]}, "mark": {"type": "rule", "color": "#a3a3a3", "strokeWidth": 0.7}, "encoding": {"y": {"datum": 0}}},
  {"data": {"values": [{"v":0},{"v":0.1},{"v":0.2},{"v":0.3}]}, "mark": {"type": "text", "align": "right", "baseline": "middle", "dx": -2, "fontSize": 4.5, "color": "#444"}, "encoding": {"x": {"datum": 0}, "y": {"field": "v", "type": "quantitative"}, "text": {"field": "v", "type": "quantitative", "format": ".1f"}}},
  {"data": {"values": [{"t": "NES = 1.6948\nNOM p-val = 0.0318\nFDR q-val = 0.0641"}]}, "mark": {"type": "text", "fontSize": 16, "lineHeight": 18.7, "lineBreak": "\n", "align": "left", "baseline": "top", "dy": 4, "color": "#111"}, "encoding": {"text": {"field": "t"}, "x": {"datum": 10100}, "y": {"datum": 0.445}}}
 ]},
 {"width": 174, "height": 26, "data": {"name": "h13"}, "mark": {"type": "rule", "color": "#000000", "strokeWidth": 0.8}, "encoding": {"x": {"field": "r", "type": "quantitative", "scale": {"domain": [0, 60000]}, "axis": null}}},
 {"width": 174, "height": 7, "data": {"name": "bar"}, "mark": "rect", "encoding": {"x": {"field": "a", "type": "quantitative", "scale": {"domain": [0, 60000]}, "axis": null}, "x2": {"field": "b"}, "fill": {"field": "k", "type": "ordinal", "scale": {"range": ["#e85d45","#ec7058","#f08a70","#f4a287","#f6c3c8","#dcdaee","#c9c6e5","#9c98cf","#7c67b1","#5a3898","#421f82"]}, "legend": null}}},
 {"width": 174, "height": 54, "layer": [
  {"data": {"name": "rank"}, "mark": {"type": "area", "color": "#bdb5b5"}, "encoding": {"x": {"field": "r", "type": "quantitative", "scale": {"domain": [0, 60000]}, "axis": {"title": "Rank in Ordered Dataset", "format": ",d", "labelOverlap": false, "values": [0,10000,20000,30000,40000,50000,60000]}}, "y": {"field": "m", "type": "quantitative", "stack": null, "scale": {"domain": [-0.85, 2.7], "nice": false, "zero": false}, "axis": {"title": "Ranked list metric (Signal2Noise)", "format": ".1f", "labelOverlap": false, "values": [-0.5,0,0.5,1,1.5,2,2.5]}}, "y2": {"datum": 0}}},
  {"data": {"values": [{}]}, "mark": {"type": "rule", "color": "#8c8c8c", "strokeWidth": 0.6, "strokeDash": [2, 2]}, "encoding": {"x": {"datum": 21957}}},
  {"data": {"name": "ytk"}, "mark": {"type": "text", "align": "right", "baseline": "middle", "dx": -2, "fontSize": 4.5, "color": "#444"}, "encoding": {"x": {"datum": 0}, "y": {"field": "v", "type": "quantitative"}, "text": {"field": "v", "type": "quantitative", "format": ".1f"}}},
  {"data": {"name": "xtk"}, "mark": {"type": "text", "align": "center", "baseline": "top", "dy": 3, "fontSize": 4.5, "color": "#444"}, "encoding": {"x": {"field": "u", "type": "quantitative"}, "y": {"datum": -0.85}, "text": {"field": "u", "type": "quantitative", "format": ",d"}}},
  {"data": {"values": [{"t": "Zero cross at 21957"}]}, "mark": {"type": "text", "fontSize": 4, "color": "#333"}, "encoding": {"text": {"field": "t"}, "x": {"datum": 21500}, "y": {"datum": 0.95}}},
  {"data": {"values": [{"t": "'h' (positively correlated)"}]}, "mark": {"type": "text", "fontSize": 4, "color": "#e2553a", "align": "left"}, "encoding": {"text": {"field": "t"}, "x": {"datum": 700}, "y": {"datum": 2.58}}},
  {"data": {"values": [{"t": "'l' (negatively correlated)"}]}, "mark": {"type": "text", "fontSize": 4, "color": "#4646b4"}, "encoding": {"text": {"field": "t"}, "x": {"datum": 39000}, "y": {"datum": -0.57}}},
  {"data": {"values": []}, "mark": "line", "encoding": {"x": {"field": "r", "type": "quantitative"}, "y": {"field": "m", "type": "quantitative"}, "color": {"field": "k", "type": "nominal", "scale": {"domain": ["Enrichment profile", "Hits", "Ranking metric scores"], "range": ["#27b34f", "#444444", "#bbbbbb"]}, "legend": {"title": null}}}}
 ]}
]},
{"width": 300, "height": 217, "data": {"values": []}, "mark": "rect", "view": {"stroke": null, "fill": "white"}}
]}
]
}
